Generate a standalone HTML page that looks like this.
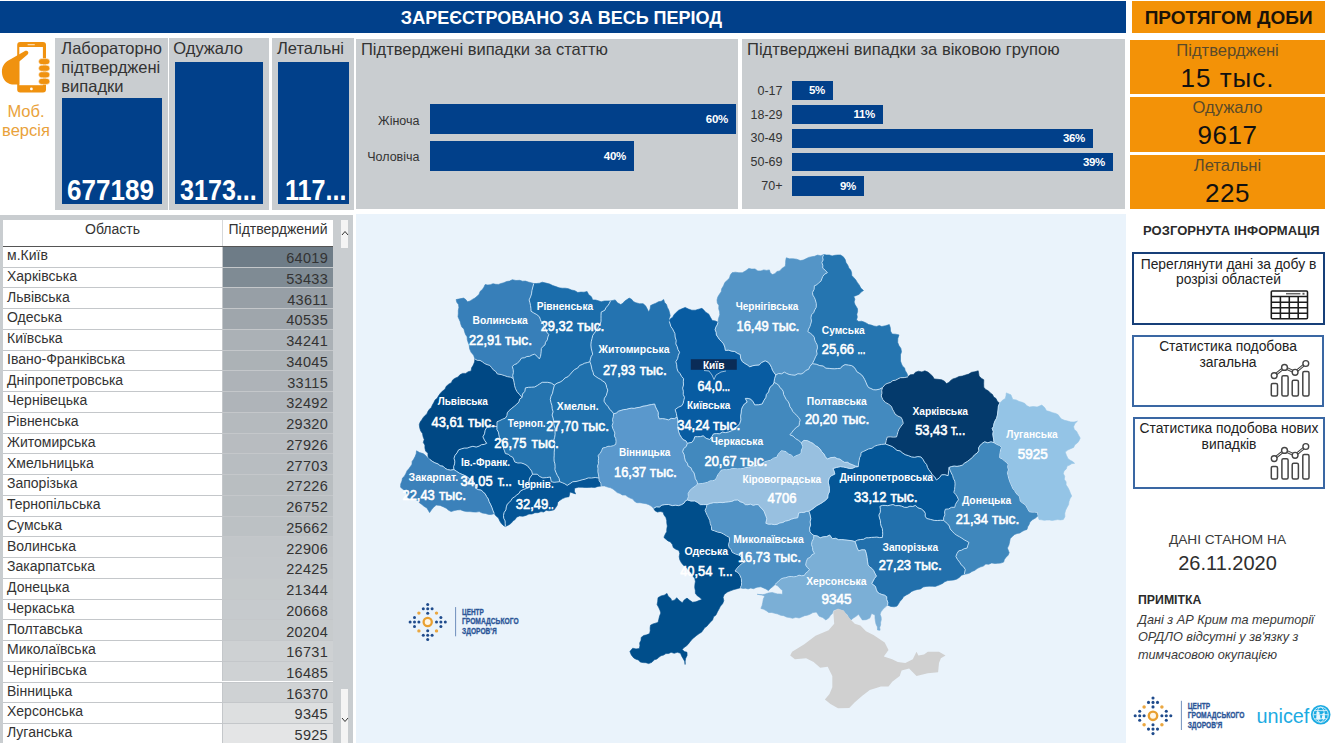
<!DOCTYPE html>
<html lang="uk">
<head>
<meta charset="utf-8">
<title>COVID-19 Ukraine dashboard</title>
<style>
*{box-sizing:border-box;margin:0;padding:0}
html,body{width:1338px;height:743px;overflow:hidden;background:#fff}
body{position:relative;font-family:"Liberation Sans",sans-serif;color:#333}
.abs{position:absolute}
.blue{background:#01408a}
.gray{background:#c9cdd0}
.orange{background:#f39207}
.t{position:absolute;white-space:nowrap;line-height:1}
.c{text-align:center}
.num{font-weight:bold;color:#fff;transform-origin:0 50%}
/* top header */
#hdr{left:0;top:1px;width:1126px;height:32px}
#hdr .t{left:0;width:1126px;top:8px;font-size:18px;font-weight:bold;color:#fff;text-align:center;padding-right:3px}
#hdr2{left:1131.6px;top:1px;width:193.4px;height:32px}
#hdr2 .t{left:0;width:194px;top:7px;font-size:19px;font-weight:bold;color:#1a1208;text-align:center}
/* cards */
.card .lbl{font-size:16.5px;line-height:19.1px;color:#333;white-space:nowrap;position:absolute;left:6.3px;top:1px}
.card .box{position:absolute;background:#01408a}
.card .box .t{bottom:-1px;left:5px;font-size:29.2px}
/* bar charts */
.bar{position:absolute;background:#01408a}
.bar span{position:absolute;right:8px;top:50%;margin-top:-6px;font-size:11.5px;line-height:12px;font-weight:bold;color:#fff;letter-spacing:-.3px}
.blab{position:absolute;margin-left:-1.5px;font-size:12.5px;line-height:14px;color:#333;text-align:right;white-space:nowrap}
/* orange */
.ob{left:1130px;width:195px}
.ob .l{position:absolute;left:0;width:100%;text-align:center;top:1px;font-size:16.6px;line-height:19px;color:#5a4a2a}
.ob .v{position:absolute;left:0;width:100%;text-align:center;top:23px;font-size:26px;line-height:30px;color:#111}
/* table */
#tbl{left:0;top:215px;width:352.5px;height:528px;background:#c9cdd0}
#tw{left:3px;top:5px;width:330px;height:523px;background:#fff}
.tr{position:absolute;left:0;width:330px;height:20.7px;border-top:1px solid #c4c7ca}
.tr .n{position:absolute;left:4px;top:.2px;font-size:14px;line-height:16px;color:#333;white-space:nowrap}
.tr .v{position:absolute;left:219px;width:111px;top:0;height:100%;border-left:1px solid #c4c7ca}
.tr .v span{position:absolute;right:5px;top:3.2px;font-size:14.5px;line-height:16px;color:#333;letter-spacing:.3px}
/* right panel */
.rbox{position:absolute;background:#fff;border:2px solid #3a67a3}
.rbox .tx{position:absolute;left:0;width:100%;text-align:center;font-size:13.85px;line-height:15.4px;color:#222;top:2.2px}
#map{left:356px;top:214px;width:770px;height:529px;background:#eaf3fb;overflow:hidden}
</style>
</head>
<body>
<!-- headers -->
<div id="hdr" class="abs blue"><div class="t">ЗАРЕЄСТРОВАНО ЗА ВЕСЬ ПЕРІОД</div></div>
<div id="hdr2" class="abs orange"><div class="t">ПРОТЯГОМ ДОБИ</div></div>

<!-- phone icon + mobile label -->
<svg class="abs" style="left:0;top:36px" width="60" height="64" viewBox="0 36 60 64">
 <rect x="17.2" y="42" width="28.8" height="50.4" rx="3" fill="#f0920f"/>
 <rect x="19.3" y="47" width="23.6" height="38.2" fill="#fff"/>
 <rect x="27.5" y="44" width="7.4" height="1.3" rx=".6" fill="#fbd9a8"/>
 <circle cx="31.4" cy="88.9" r="1.4" fill="#fff"/>
 <path d="M19.3 84.6 L12 84.4 C6 83.6 2.2 79 1.9 72 C1.8 65 6 61.5 11 59 L24.5 51.2 C27.2 49.8 29.6 52.2 27.6 54.4 L19.3 61.5 Z" fill="#f0920f"/>
 <g fill="#f0920f" stroke="#fff" stroke-width=".5">
  <rect x="38.6" y="58.6" width="11.2" height="6" rx="3"/>
  <rect x="38.6" y="65.2" width="11.2" height="6" rx="3"/>
  <rect x="38.6" y="71.8" width="11.2" height="6" rx="3"/>
  <rect x="38.6" y="78.4" width="11.2" height="6" rx="3"/>
 </g>
</svg>
<div class="t c" style="left:0;width:52px;top:102px;font-size:16.5px;line-height:18.7px;color:#e9a23b;white-space:normal">Моб. версія</div>

<!-- cards -->
<div class="abs gray card" style="left:55px;top:38px;width:113px;height:172px">
 <div class="lbl">Лабораторно<br>підтверджені<br>випадки</div>
 <div class="box" style="left:7px;top:60px;width:100px;height:106px"><div class="t num" style="transform:scaleX(.893)">677189</div></div>
</div>
<div class="abs gray card" style="left:169.3px;top:38px;width:100px;height:172px">
 <div class="lbl" style="left:4px">Одужало</div>
 <div class="box" style="left:5.5px;top:24.4px;width:88px;height:141.6px"><div class="t num" style="transform:scaleX(.86)">3173...</div></div>
</div>
<div class="abs gray card" style="left:272px;top:38px;width:82px;height:172px">
 <div class="lbl" style="left:5px">Летальні</div>
 <div class="box" style="left:6px;top:24.4px;width:71px;height:141.6px"><div class="t num" style="left:7px;transform:scaleX(.86)">117...</div></div>
</div>

<!-- sex chart -->
<div class="abs gray" style="left:356.2px;top:39px;width:381.8px;height:169.8px">
 <div class="t" style="left:4.8px;top:1.3px;font-size:16.55px;line-height:19px">Підтверджені випадки за статтю</div>
 <div class="blab" style="left:.8px;width:64px;top:74.6px">Жіноча</div>
 <div class="blab" style="left:.8px;width:64px;top:111.2px">Чоловіча</div>
 <div class="bar" style="left:73.8px;top:65px;width:306px;height:30px"><span>60%</span></div>
 <div class="bar" style="left:73.8px;top:101.7px;width:204px;height:30px"><span>40%</span></div>
</div>

<!-- age chart -->
<div class="abs gray" style="left:742px;top:39px;width:382.5px;height:169.8px">
 <div class="t" style="left:5px;top:1.3px;font-size:16.55px;line-height:19px">Підтверджені випадки за віковою групою</div>
 <div class="blab" style="left:0;width:42px;top:44.5px">0-17</div>
 <div class="blab" style="left:0;width:42px;top:68.5px">18-29</div>
 <div class="blab" style="left:0;width:42px;top:92.3px">30-49</div>
 <div class="blab" style="left:0;width:42px;top:116px">50-69</div>
 <div class="blab" style="left:0;width:42px;top:140px">70+</div>
 <div class="bar" style="left:50px;top:41.7px;width:41px;height:19.1px"><span>5%</span></div>
 <div class="bar" style="left:50px;top:65.7px;width:91px;height:19.1px"><span>11%</span></div>
 <div class="bar" style="left:50px;top:90.1px;width:301px;height:18.5px"><span>36%</span></div>
 <div class="bar" style="left:50px;top:113.8px;width:321px;height:18.4px"><span>39%</span></div>
 <div class="bar" style="left:50px;top:137.4px;width:72px;height:19.2px"><span>9%</span></div>
</div>

<!-- orange boxes -->
<div class="abs orange ob" style="top:40px;height:54.4px"><div class="l">Підтверджені</div><div class="v" style="letter-spacing:1px">15 тыс.</div></div>
<div class="abs orange ob" style="top:97.2px;height:54.4px"><div class="l">Одужало</div><div class="v" style="letter-spacing:.6px">9617</div></div>
<div class="abs orange ob" style="top:154.6px;height:54.2px"><div class="l">Летальні</div><div class="v" style="letter-spacing:.6px">225</div></div>

<!-- table -->
<div id="tbl" class="abs">
 <div id="tw" class="abs">
  <div class="t c" style="left:0;width:219px;top:1.2px;font-size:14px;line-height:16px">Область</div>
  <div class="t c" style="left:219px;width:111px;top:0;font-size:14px;line-height:16px;border-left:1px solid #d6d8da;height:26px;padding-top:1.2px">Підтверджений</div>
  <div class="tr" style="top:26.00px;border-top-color:#555"><div class="n">м.Київ</div><div class="v" style="background:#6e7c87"><span>64019</span></div></div>
  <div class="tr" style="top:46.74px"><div class="n">Харківська</div><div class="v" style="background:#7f8b94"><span>53433</span></div></div>
  <div class="tr" style="top:67.48px"><div class="n">Львівська</div><div class="v" style="background:#979fa6"><span>43611</span></div></div>
  <div class="tr" style="top:88.22px"><div class="n">Одеська</div><div class="v" style="background:#9fa6ac"><span>40535</span></div></div>
  <div class="tr" style="top:108.96px"><div class="n">Київська</div><div class="v" style="background:#abb1b6"><span>34241</span></div></div>
  <div class="tr" style="top:129.70px"><div class="n">Івано-Франківська</div><div class="v" style="background:#acb2b6"><span>34045</span></div></div>
  <div class="tr" style="top:150.44px"><div class="n">Дніпропетровська</div><div class="v" style="background:#aeb3b8"><span>33115</span></div></div>
  <div class="tr" style="top:171.18px"><div class="n">Чернівецька</div><div class="v" style="background:#afb4b9"><span>32492</span></div></div>
  <div class="tr" style="top:191.92px"><div class="n">Рівненська</div><div class="v" style="background:#b5babe"><span>29320</span></div></div>
  <div class="tr" style="top:212.66px"><div class="n">Житомирська</div><div class="v" style="background:#b8bcc0"><span>27926</span></div></div>
  <div class="tr" style="top:233.40px"><div class="n">Хмельницька</div><div class="v" style="background:#b8bdc1"><span>27703</span></div></div>
  <div class="tr" style="top:254.14px"><div class="n">Запорізька</div><div class="v" style="background:#b9bec1"><span>27226</span></div></div>
  <div class="tr" style="top:274.88px"><div class="n">Тернопільська</div><div class="v" style="background:#babfc2"><span>26752</span></div></div>
  <div class="tr" style="top:295.62px"><div class="n">Сумська</div><div class="v" style="background:#bcc1c4"><span>25662</span></div></div>
  <div class="tr" style="top:316.36px"><div class="n">Волинська</div><div class="v" style="background:#c2c6c9"><span>22906</span></div></div>
  <div class="tr" style="top:337.10px"><div class="n">Закарпатська</div><div class="v" style="background:#c3c7ca"><span>22425</span></div></div>
  <div class="tr" style="top:357.84px"><div class="n">Донецька</div><div class="v" style="background:#c5c9cb"><span>21344</span></div></div>
  <div class="tr" style="top:378.58px"><div class="n">Черкаська</div><div class="v" style="background:#c6cacd"><span>20668</span></div></div>
  <div class="tr" style="top:399.32px"><div class="n">Полтавська</div><div class="v" style="background:#c7cbcd"><span>20204</span></div></div>
  <div class="tr" style="top:420.06px"><div class="n">Миколаївська</div><div class="v" style="background:#ced1d3"><span>16731</span></div></div>
  <div class="tr" style="top:440.80px"><div class="n">Чернігівська</div><div class="v" style="background:#cfd2d4"><span>16485</span></div></div>
  <div class="tr" style="top:461.54px"><div class="n">Вінницька</div><div class="v" style="background:#cfd2d4"><span>16370</span></div></div>
  <div class="tr" style="top:482.28px"><div class="n">Херсонська</div><div class="v" style="background:#dddfe0"><span>9345</span></div></div>
  <div class="tr" style="top:503.02px"><div class="n">Луганська</div><div class="v" style="background:#e4e5e6"><span>5925</span></div></div>
 </div>
 <!-- scrollbar -->
 <div class="abs" style="left:341px;top:5px;width:7px;height:28px;background:#f4f4f4"></div>
 <div class="abs" style="left:341px;top:474px;width:7px;height:54px;background:#f4f4f4"></div>
 <svg class="abs" style="left:341px;top:15px" width="8" height="6" viewBox="0 0 8 6"><path d="M1 5 L4 1.5 L7 5" fill="none" stroke="#333" stroke-width="1"/></svg>
 <svg class="abs" style="left:341px;top:502px" width="8" height="6" viewBox="0 0 8 6"><path d="M1 1 L4 4.5 L7 1" fill="none" stroke="#333" stroke-width="1"/></svg>
</div>

<!-- map -->
<div id="map" class="abs">
<svg id="mapsvg" class="abs" style="left:-356px;top:-214px" width="1338" height="743" viewBox="0 0 1338 743">
<g stroke-linejoin="round">
<path d="M474.9,358.9 473.6,355.2 471.1,352.3 469.6,348.8 469.2,344.9 468.1,342.3 467.3,339.7 467.1,336.8 465.5,334.4 464.6,331.8 463.9,329 461.8,326.9 460.8,324.3 460.2,321.7 459.1,319.2 458,316.8 458.3,313.7 458.3,310.5 458.9,307.4 458.5,304.6 456.8,302.3 456.1,299.6 459.8,298.8 463.6,298.1 465.8,299.6 467.4,301.8 470.1,301 472.4,299.4 474.9,298.1 477.1,296.2 479.1,294.2 480.1,291.4 482.3,289.6 483.9,287.2 485.1,284.6 487.8,285 490.4,284.7 493,283.7 495.7,284.3 498.4,284.4 501,283.5 503.9,282.7 506.6,281.5 509.6,281.1 512.3,279.7 516,280.5 519.8,280.3 522.5,281.2 525.5,281.1 528.2,282 531,282.7 533.8,283.5 532.8,287 531.9,290.6 531.5,293.9 530.5,296.9 529.1,299.9 529.9,302.7 530.5,305.5 530.9,308.3 531,311.2 533.8,313 536.8,314.6 539.4,316.8 540.3,319.3 541.2,321.7 543.5,323.5 544.1,326.1 545.6,329 546.7,332.1 548.8,334.6 547.8,337.1 547.3,339.9 545.5,342.2 545,344.9 542.9,346.5 541.3,348.6 541.2,351.2 540.9,353.8 540.5,356.4 539.4,358.9 537.2,356.4 534.7,354.2 532.1,354.9 529.6,356.3 526.9,356.5 524.4,357.8 521.6,358 519.5,360.9 517,363.6 514.4,364.6 512.3,366.4 513.1,369.4 513.4,372.4 512.7,375.5 513.2,378.5 510.5,377.1 507.6,376.7 504.8,375.7 501.1,374.5 497.3,373.9 495.8,371.5 493.3,369.8 491.6,367.6 489.8,365.4 487.1,364.6 484.5,363.5 482.3,361.7 480,360.4 477.2,360.3Z" fill="#377fb9" stroke="#377fb9" stroke-width=".6"/>
<path d="M533.8,283.5 536.7,283.5 539.5,283.2 542.2,282.2 546,283.1 549.7,284 552.7,285.5 555.9,286.6 559.1,287.8 562.2,288.2 565.3,288.2 568.4,288.7 571.5,290 574.9,290.7 577.8,292.5 580.9,292.1 584,292.2 587.1,291.5 588.6,294.5 591.4,296.7 592.7,299.9 595.7,300 598.4,300.8 601.2,301.8 604.2,301 607.4,300.9 610.5,300.9 609.3,303.4 607.9,305.7 605.9,307.6 604.9,310.2 601.2,312.1 601,315.2 601,318.2 601,321.3 600.2,324.3 598.6,326.5 597.5,329 595.9,331.1 594.2,333.3 592.7,335.5 592,338.6 591.2,341.7 590.9,344.9 591.2,348.1 591.9,351.1 592.7,354.2 591.2,356.5 590.4,359 589.9,361.7 587.3,362.6 584.6,363.2 582.2,364.5 579.6,365.4 577.6,368.1 574.5,369.6 572.2,372 570.1,374.4 568,376.7 564.9,378 562.8,380.4 560.1,382.1 557,383.2 554.4,385.1 551.3,383.1 547.8,382.3 545,382.3 542.2,382.3 539.7,383.9 537.3,385.5 534.7,387 531.6,387.2 528.5,387.3 525.4,387.9 524.9,391.3 522.5,394 522,397.4 519.5,394.5 517,391.6 515.5,388.7 514.6,385.6 514.1,382.3 513.2,378.5 512.7,375.5 513.4,372.4 513.1,369.4 512.3,366.4 514.4,364.6 517,363.6 519.5,360.9 521.6,358 524.4,357.8 526.9,356.5 529.6,356.3 532.1,354.9 534.7,354.2 537.2,356.4 539.4,358.9 540.5,356.4 540.9,353.8 541.2,351.2 541.3,348.6 542.9,346.5 545,344.9 545.5,342.2 547.3,339.9 547.8,337.1 548.8,334.6 546.7,332.1 545.6,329 544.1,326.1 543.5,323.5 541.2,321.7 540.3,319.3 539.4,316.8 536.8,314.6 533.8,313 531,311.2 530.9,308.3 530.5,305.5 529.9,302.7 529.1,299.9 530.5,296.9 531.5,293.9 531.9,290.6 532.8,287Z" fill="#1b6dab" stroke="#1b6dab" stroke-width=".6"/>
<path d="M610.5,300.9 615.2,299.9 617.5,302.8 620.8,304.6 623,303.1 624.8,301 627,299.6 629.2,298.1 631.6,299.3 633.4,301.5 635.8,302.7 639.5,303.7 643.3,303.7 645.7,306.1 647.3,309 648.7,312 650.1,308.9 650.6,305.5 653.2,304.3 655.9,303.2 658.4,301.8 661.3,301.2 663.7,299.5 664.5,302.3 666.5,304.6 667.4,307.4 668.8,310 669.6,312.9 670.2,315.8 669.1,318.5 669.3,321.4 670.1,324 670.9,326.6 672.5,328.8 673.7,331.2 674.9,333.6 675.1,337 676.2,340.4 675.8,343.9 677.2,346.7 678,349.7 679.6,352.3 678.3,355.4 677.6,358.7 675.8,361.6 676.7,364.8 676.9,368.1 677.9,371.2 680,373.5 681.5,376.3 683.6,378.7 683.3,381.8 683.5,385 682.6,388.1 683.3,391.2 683.2,394.4 684.5,397.4 683.8,400.3 683.2,403.2 681.7,405.8 678.2,407.3 675.1,409.6 676.3,413.3 677,417.1 674.4,418.7 671.2,418.4 668.6,419.9 665.5,419.1 662.4,418.6 659.2,418.9 658.2,415.7 658.3,412.4 656.9,409.7 655.5,406.9 654.6,404 651.8,404.5 648.9,405 646.1,405.8 643,406.2 639.9,407.3 636.8,407.7 634.2,408.4 631.5,408.2 628.9,408.6 626.3,409.4 623.7,409.6 621.1,410.4 618.5,411.2 616.3,413.1 613.6,413.8 612,411.4 609.7,409.4 608.3,406.8 605.9,404.2 604,401.2 604.4,398.2 606.2,395.7 607,392.9 607.8,390 606.7,387.6 606.2,384.9 605,382.5 602.7,381 600.6,379.4 598.1,378.1 595.9,376.6 593.7,375 593.1,372.3 592,369.7 591.5,367 590.8,364.3 589.9,361.7 590.4,359 591.2,356.5 592.7,354.2 591.9,351.1 591.2,348.1 590.9,344.9 591.2,341.7 592,338.6 592.7,335.5 594.2,333.3 595.9,331.1 597.5,329 598.6,326.5 600.2,324.3 601,321.3 601,318.2 601,315.2 601.2,312.1 604.9,310.2 605.9,307.6 607.9,305.7 609.3,303.4Z" fill="#2473b0" stroke="#2473b0" stroke-width=".6"/>
<path d="M669.3,321.4 670.4,318.8 672.7,317.2 674,314.8 676.2,312.4 678.7,310.2 681.9,308.8 685.2,307.4 688.4,309 691.8,310.2 695.3,310.2 698.7,309.2 702,308.3 704,310.3 706,312.5 708.6,313.9 710.4,317.2 712.3,320.5 715.3,320.9 718,322.3 717.2,324.9 715.8,327.2 715.1,329.8 716.2,332.3 716.4,335 718,337.3 719.6,339.7 721.7,341.7 723.6,343.9 724.8,347.1 725.4,350.4 728.6,350.2 731.7,351.2 734.8,351.5 737.4,353.3 740.3,354.5 740.6,358.2 742.3,361.6 744.8,363.4 747.4,364.9 749.8,366.8 752.8,365.7 755.9,365.2 759.1,365 761.8,362.4 765.2,360.8 768.2,362.3 770.3,365 771.6,367.6 772.5,370.3 774.1,372.7 775.8,375 774.6,378.6 774,382.4 772.9,384.9 770.6,386.6 769.3,389 768.6,392 766.4,394.4 765.9,397.4 763.8,400.6 762.2,404 758.5,404.8 754.7,404.9 753.2,401.9 750.9,399.3 748.2,398.4 745.3,398.4 747.2,402.1 744.4,404 742.5,406.8 741.4,409.8 741.2,413 740.6,416.1 740.9,419.9 739.7,423.6 738.1,425.7 735.8,427.2 734.1,429.2 731.4,430.8 728.5,432 725.5,432.6 722.4,432.1 719.6,433.8 716.5,433.6 713.5,433.9 711.8,436.8 709.8,439.5 706.1,438.3 703.2,435.8 700.5,436.6 697.6,436.7 694.8,436.7 693.8,439.7 692,442.3 687.3,443.3 685.9,440.8 683,439.6 681.4,437.3 679.8,434.9 678.7,431.9 678,428.7 677.9,425.5 677.7,422.7 677.8,419.9 677,417.1 676.3,413.3 675.1,409.6 678.2,407.3 681.7,405.8 683.2,403.2 683.8,400.3 684.5,397.4 683.2,394.4 683.3,391.2 682.6,388.1 683.5,385 683.3,381.8 683.6,378.7 681.5,376.3 680,373.5 677.9,371.2 676.9,368.1 676.7,364.8 675.8,361.6 677.6,358.7 678.3,355.4 679.6,352.3 678,349.7 677.2,346.7 675.8,343.9 676.2,340.4 675.1,337 674.9,333.6 673.7,331.2 672.5,328.8 670.9,326.6 670.1,324Z" fill="#085ca2" stroke="#085ca2" stroke-width=".6"/>
<path d="M718,322.3 718.5,318.4 719.8,314.8 719.6,311.7 718.7,308.7 718.9,305.5 717.3,302.9 717,299.9 717.8,297 719.4,294.3 721.2,291.8 721.7,288.7 723.5,285.8 724.8,282.6 727.3,280.2 729.5,278.1 730.3,275.1 732,272.7 735.4,272.2 738.9,272.7 742.3,272.7 745.7,270.8 748.8,268.4 751.8,269.1 755,268.9 757.8,270.9 761,270.9 763.7,269.9 766.6,270.4 769.4,269.9 770.2,272.6 772.2,274.6 774.9,273.7 776.9,271.5 779.7,270.9 782.2,268.2 785.3,266.2 785.6,263.4 785.7,260.6 786.3,257.8 789.5,258.8 792.8,258.7 796.7,259.2 800.3,260.6 803.2,260.1 805.9,258.8 808.6,257.4 811.5,256.8 814.6,256.3 817.5,255.1 820.7,255.7 823.7,254.6 822.6,257.1 823.1,260 821.8,262.5 822.8,265.2 822.7,268.1 825.2,270.2 827.4,272.7 824.7,274.1 822.7,276.5 820.9,281.2 818.7,282.8 816.8,284.8 814.3,285.8 814.1,289.3 812.5,292.4 812.8,295.1 814.3,297.4 815.3,299.9 816.3,303.6 816.2,307.4 814.7,309.9 813.6,312.7 811.5,314.8 810.9,317.9 811.5,321.1 810.6,324.2 809.8,326.7 808.5,329.1 807.8,331.7 810.3,333.2 812.5,335 814.3,337.3 814.7,340 815.8,342.5 817.1,344.8 817.5,347.9 816.5,351 817.1,354.1 815.5,356.8 814.3,359.8 812.3,363.7 810,366.2 808.6,369.3 805.8,370.4 803.7,372.7 801.1,374 797.9,373.7 795,375.2 791.8,374.9 789.1,374.4 786.7,373.4 784.3,372.1 781.7,373.8 778.4,373.5 775.8,375 774.1,372.7 772.5,370.3 771.6,367.6 770.3,365 768.2,362.3 765.2,360.8 761.8,362.4 759.1,365 755.9,365.2 752.8,365.7 749.8,366.8 747.4,364.9 744.8,363.4 742.3,361.6 740.6,358.2 740.3,354.5 737.4,353.3 734.8,351.5 731.7,351.2 728.6,350.2 725.4,350.4 724.8,347.1 723.6,343.9 721.7,341.7 719.6,339.7 718,337.3 716.4,335 716.2,332.3 715.1,329.8 715.8,327.2 717.2,324.9Z" fill="#5495c7" stroke="#5495c7" stroke-width=".6"/>
<path d="M823.7,254.6 826.5,255 829.4,255 832.1,255.9 834.9,255.3 837.7,255 840.5,255 843.3,256.8 845.2,259.6 846,262.6 847.8,265.2 848.9,268.1 850.7,270.1 851.6,272.6 851.8,275.4 853.6,277.4 855.7,279.8 857.3,282.4 859.2,284.9 860.8,288.1 863.5,290.5 861.1,292.1 859.2,294.3 856.4,295.4 853.7,296.5 854.9,299.1 854.1,302 855,304.6 857.5,308.7 857.6,311.5 856.8,314.3 857.3,317.1 856.5,319.9 858.7,321.5 861.6,321.2 864.1,322.1 866.5,323.2 868.7,324.6 871.3,325.1 873.8,326 876.5,326.4 879.3,325.6 881.8,326.5 885.6,325.7 889.3,324.6 890.3,327.7 890.5,331.1 892.1,334 895.6,334.2 899,334.9 897.8,338.5 897.7,342.4 898.9,345.5 900.9,348.4 901.5,351.8 900.5,354.8 900.5,358 900.5,361.1 901.4,363.6 902.4,366 904.6,367.9 905.2,370.5 907,373.5 908,376.8 904.2,377.6 900.3,377.7 897.9,378.9 895.5,380.2 892.8,380.6 890.6,382.4 887.9,383.2 885.3,384.3 882.5,387.6 879.4,389.2 876,389.9 873.3,389.7 870.9,388.5 868.5,387.5 867,385 865.9,382.2 864.7,379.6 863.3,377.1 861.5,374.8 859.1,373.1 856.8,371.7 855.5,369.2 853.9,367.1 851.6,365.6 848.4,365.1 845.1,364.6 842.4,366 840.4,368.4 837.6,368.5 834.8,368.8 832,368.7 829.2,368.4 825.9,368.2 823.1,366 819.8,365.6 816.2,364.2 812.3,363.7 814.3,359.8 815.5,356.8 817.1,354.1 816.5,351 817.5,347.9 817.1,344.8 815.8,342.5 814.7,340 814.3,337.3 812.5,335 810.3,333.2 807.8,331.7 808.5,329.1 809.8,326.7 810.6,324.2 811.5,321.1 810.9,317.9 811.5,314.8 813.6,312.7 814.7,309.9 816.2,307.4 816.3,303.6 815.3,299.9 814.3,297.4 812.8,295.1 812.5,292.4 814.1,289.3 814.3,285.8 816.8,284.8 818.7,282.8 820.9,281.2 822.7,276.5 824.7,274.1 827.4,272.7 825.2,270.2 822.7,268.1 822.8,265.2 821.8,262.5 823.1,260 822.6,257.1Z" fill="#2575b0" stroke="#2575b0" stroke-width=".6"/>
<path d="M775.8,375 778.4,373.5 781.7,373.8 784.3,372.1 786.7,373.4 789.1,374.4 791.8,374.9 795,375.2 797.9,373.7 801.1,374 803.7,372.7 805.8,370.4 808.6,369.3 810,366.2 812.3,363.7 816.2,364.2 819.8,365.6 823.1,366 825.9,368.2 829.2,368.4 832,368.7 834.8,368.8 837.6,368.5 840.4,368.4 842.4,366 845.1,364.6 848.4,365.1 851.6,365.6 853.9,367.1 855.5,369.2 856.8,371.7 859.1,373.1 861.5,374.8 863.3,377.1 864.7,379.6 865.9,382.2 867,385 868.5,387.5 870.9,388.5 873.3,389.7 876,389.9 879.4,389.2 882.5,387.6 881.7,390.3 881.9,393.2 881.2,396 882.8,399.6 885.5,402.5 888.7,404.2 891.5,406.5 892.4,409.1 893.8,411.5 895,414 897.9,416.1 901.2,417.5 902.5,420.3 903.2,423.3 901.1,426.1 899,429 898,431.6 897.3,434.3 896.5,436.9 893.4,437.1 890.3,436.8 887.2,437 886.2,440.5 885.4,444 881.6,444.4 877.8,445.1 874.6,446.2 871.9,448.3 868.5,448.9 866,450.2 863.5,451.4 861,452.6 860.8,455.3 859.6,457.7 859.1,460.4 858.6,463 858.2,466.6 855.3,466.1 852.6,464.8 849.8,463.8 847.5,462.3 844.6,462.4 842.3,461 840.1,459.2 837.2,458.7 834.8,457.3 830.9,457.6 827.3,459.1 825.3,456.7 823.9,453.9 821.7,451.7 820.1,449.1 818,447 815.3,445.7 813.2,443.5 810.5,442.3 807.4,440.7 803.9,440.4 801.3,442.8 798.6,440.4 795.5,438.6 793.1,436.1 789.9,434.8 791.8,432.5 793.6,430.1 796.2,427.6 799.2,425.5 799.4,422.6 800.2,419.9 798.6,417.5 796.6,415.3 794.6,413.3 792.7,411.4 791.6,408.9 789.9,406.8 789.3,404 788,401.5 786.1,399.3 784.9,396.9 783.6,394.5 783.3,391.8 782,389.4 779.9,387.6 778.7,385.2 776.5,383.6 774,382.4 774.6,378.6Z" fill="#438abf" stroke="#438abf" stroke-width=".6"/>
<path d="M908,376.8 910.2,374.8 913.4,374.4 915.5,372.3 918.5,371.2 921.9,371.9 924.9,370.8 927.9,372.1 930.5,374.2 932.7,376.3 934.2,378.9 938,379.3 941.7,379.8 944.5,381.2 946.4,383.6 948.9,382.4 950.7,380.4 952.9,378.9 956,378 959,376.5 962.3,376.1 965.5,375 968.7,374.1 971.6,372.3 974.9,371.7 978.2,370.8 978.7,373.4 979.1,376.1 981.3,378.2 983.8,379.8 983.7,383.6 983.8,387.3 985.7,389.5 988.3,390.8 990.3,392.9 992.5,394.5 993.7,397 996,398.5 997.3,401.3 999.7,403.2 998.4,406 998.2,409 997.8,412 997.4,415.2 996.6,418.2 995,421 994,423.6 993.6,426.3 992.2,428.7 993.3,431.4 992.8,434.3 993.3,437.1 993.7,439.9 994.1,442.7 991,441.8 987.8,442.8 984.7,441.8 982.1,443.4 980,445.6 978.5,447.9 978.8,450.8 977.2,453 974.5,454.9 972.4,457.5 969.8,459.6 967.3,461.5 964.6,463.1 962.3,465.2 959.7,465.9 957,466.4 954.2,466.1 951.6,466.5 949,467.5 948.8,470.2 948.4,473 948.1,475.7 944.9,474.7 941.6,474.8 939.4,477.8 936.4,480 934.8,477 932.2,474.8 930.8,472.2 928.9,469.9 927.5,467.4 926.6,464.5 924.5,462.2 923,459.4 921,457 917.9,456.6 914.7,457.3 911.6,457 908.5,455.7 905.2,454.7 902.3,452.8 900.1,450.9 897,450.4 894.8,448.5 892.5,446.7 889,445.3 885.4,444 886.2,440.5 887.2,437 890.3,436.8 893.4,437.1 896.5,436.9 897.3,434.3 898,431.6 899,429 901.1,426.1 903.2,423.3 902.5,420.3 901.2,417.5 897.9,416.1 895,414 893.8,411.5 892.4,409.1 891.5,406.5 888.7,404.2 885.5,402.5 882.8,399.6 881.2,396 881.9,393.2 881.7,390.3 882.5,387.6 885.3,384.3 887.9,383.2 890.6,382.4 892.8,380.6 895.5,380.2 897.9,378.9 900.3,377.7 904.2,377.6Z" fill="#043a6c" stroke="#043a6c" stroke-width=".6"/>
<path d="M999.7,403.2 1002.2,400.5 1005.3,398.5 1006,395.7 1006.3,392.9 1010.9,394.8 1012.8,399.5 1016.1,399.9 1019.1,401.4 1022.2,402.3 1024.9,403.5 1026.9,405.8 1029.6,407 1033.3,406.5 1037.1,407 1041.8,405.1 1044.6,407.5 1046.5,410.7 1049.6,411.6 1052.7,412.7 1055.8,413.5 1058.2,414.8 1059.7,417.1 1061.5,419.1 1064.5,420.3 1067.7,421.1 1070.8,421.9 1074.2,422 1077.4,421.2 1074.9,423.6 1073.6,426.8 1074.3,429.4 1076.5,431.2 1077.7,433.5 1078.9,435.8 1080.2,438.1 1079,440.8 1077.3,443 1074.9,444.8 1073.6,447.4 1070.6,448.7 1067.7,450.1 1065.2,452.1 1066.5,455.4 1068,458.7 1070.2,460.2 1072.6,461.5 1074.6,463.3 1071.9,463.6 1069.6,465.1 1067.1,466.1 1066.3,468.9 1064.1,470.9 1063.3,473.6 1064.7,476.3 1064.3,479.3 1066.1,481.9 1066.1,484.9 1067.9,487.5 1069.3,490.3 1070.4,493.2 1071.7,496.1 1070,498.7 1069,501.5 1068.6,504.6 1067.1,507.3 1065.6,510.2 1064.8,513.3 1064.9,516.7 1063.3,519.5 1060.5,519.9 1057.7,519.6 1054.9,520 1052.1,520.4 1049.5,520 1046.9,520 1044.2,520.3 1041.6,519.8 1039,519.5 1038,515.7 1037.5,512.4 1034.8,512.1 1032,512.1 1029.3,511.7 1027.4,508.4 1025.6,505 1022.9,503.2 1020.3,501.2 1019.6,496.7 1017.6,494.9 1015.9,492.9 1014.6,490.5 1012.8,488.6 1011.8,486 1010.6,483.5 1009.6,480.9 1008.7,478.2 1008.1,475.5 1007.4,472.7 1008.5,469.9 1007.7,467.1 1008.1,464.3 1006.3,462.3 1004.2,460.6 1002.2,458.9 999.7,457.7 999.8,455.1 1000.2,452.5 1000.6,449.9 1001.6,447.4 999.4,445.4 996.6,444.3 994.1,442.7 993.7,439.9 993.3,437.1 992.8,434.3 993.3,431.4 992.2,428.7 993.6,426.3 994,423.6 995,421 996.6,418.2 997.4,415.2 997.8,412 998.2,409 998.4,406Z" fill="#94c4e6" stroke="#94c4e6" stroke-width=".6"/>
<path d="M994.1,442.7 996.6,444.3 999.4,445.4 1001.6,447.4 1000.6,449.9 1000.2,452.5 999.8,455.1 999.7,457.7 1002.2,458.9 1004.2,460.6 1006.3,462.3 1008.1,464.3 1007.7,467.1 1008.5,469.9 1007.4,472.7 1008.1,475.5 1008.7,478.2 1009.6,480.9 1010.6,483.5 1011.8,486 1012.8,488.6 1014.6,490.5 1015.9,492.9 1017.6,494.9 1019.6,496.7 1020.3,501.2 1022.9,503.2 1025.6,505 1027.4,508.4 1029.3,511.7 1032,512.1 1034.8,512.1 1037.5,512.4 1038,515.7 1035.5,518 1032.5,519.7 1030,522 1029.1,524.5 1027.7,526.8 1027,529.4 1024.5,530.3 1022.1,531.4 1019.9,533 1017.2,533.5 1014.7,534.4 1012.3,536.4 1010.2,538.7 1009.6,541.9 1008.9,545.1 1007.4,548.1 1009.2,552.7 1008.1,555.2 1006.1,557.2 1004.4,559.4 1003.6,562.1 1000.7,563.1 997.7,563.3 994.8,563.5 991.7,562.9 988.8,564.3 985.8,564 983.3,566.1 980.1,567.1 977.2,568.5 974.6,570.5 972,571.4 969.7,573 967,573.8 964.3,574.3 965.3,569.6 963.7,566.9 961.2,564.8 959.6,562.1 957.5,559.5 955.9,556.5 957,553.5 958.7,550.9 961.6,550.2 964.2,548.7 967.1,548.1 967.9,545.2 969,542.5 966.6,541.1 964.2,539.8 961.9,538.2 959.6,536.8 956.8,535.3 954.3,533.5 952.2,531.2 950.2,529 949.3,526 947.5,523.7 943.6,520.4 943.7,517.5 944.9,514.9 944.6,511.9 945.4,509.2 948.6,509 951.5,507.3 954.8,507.3 955.4,504.5 956.8,502.1 958.5,499.8 957.4,497 955.8,494.6 953.9,492.3 954.6,489.5 954.9,486.7 955.1,483.9 954.8,481.1 953.4,478.5 952.7,475.6 951.3,473 950.1,470.2 949,467.5 951.6,466.5 954.2,466.1 957,466.4 959.7,465.9 962.3,465.2 964.6,463.1 967.3,461.5 969.8,459.6 972.4,457.5 974.5,454.9 977.2,453 978.8,450.8 978.5,447.9 980,445.6 982.1,443.4 984.7,441.8 987.8,442.8 991,441.8Z" fill="#3f87bc" stroke="#3f87bc" stroke-width=".6"/>
<path d="M885.4,444 889,445.3 892.5,446.7 894.8,448.5 897,450.4 900.1,450.9 902.3,452.8 905.2,454.7 908.5,455.7 911.6,457 914.7,457.3 917.9,456.6 921,457 923,459.4 924.5,462.2 926.6,464.5 927.5,467.4 928.9,469.9 930.8,472.2 932.2,474.8 934.8,477 936.4,480 939.4,477.8 941.6,474.8 944.9,474.7 948.1,475.7 948.4,473 948.8,470.2 949,467.5 950.1,470.2 951.3,473 952.7,475.6 953.4,478.5 954.8,481.1 955.1,483.9 954.9,486.7 954.6,489.5 953.9,492.3 955.8,494.6 957.4,497 958.5,499.8 956.8,502.1 955.4,504.5 954.8,507.3 951.5,507.3 948.6,509 945.4,509.2 944.6,511.9 944.9,514.9 943.7,517.5 943.6,520.4 940.5,520.3 937.3,520.5 934.2,520.4 930.5,519.4 926.7,518.5 925.2,516.2 925.3,513.3 923.9,511 921.3,508.9 917.9,507.8 915.5,505.4 912.8,506.5 909.9,506.2 907.2,507.4 904.3,507.3 901.6,506.1 898.8,505.5 895.7,505.7 893,504.5 890.4,505.1 887.8,505.7 885.1,505.4 882.4,505.4 879.9,506.4 880.4,509.3 880.3,512.2 878.9,515.1 879.5,518 880.4,520.6 880.5,523.3 881.1,526 882.3,528.5 882.6,531.5 882.7,534.5 882.3,537.5 879.6,537.6 876.9,537.1 874.2,537.3 871.5,537.4 868.8,537.8 866.1,537.8 863.5,539.3 860.5,539.5 857.5,540.1 854.9,541.5 851.1,540.6 848,540.3 844.9,539.9 841.8,539.6 838.6,539.7 835.6,538.3 832.4,538.7 829.6,535 826.7,536.6 823.3,536.8 820.2,537.8 817.3,536 813.9,535.5 811.7,533.9 809.9,531.8 809.5,528 810.6,525 810.1,521.8 810.8,518.7 810.1,514.9 808.9,511.2 811.8,509.4 814.6,507.4 816.9,505.5 819.5,504.2 822,502.7 825,500.6 827.7,498.1 827.9,494.9 829.3,491.9 829.5,488.7 828.9,485.3 828.2,482 829.2,477.9 831.7,475.5 834.8,474.1 834.1,471.2 832.9,468.5 836.6,467.4 840.4,466.6 843.6,467 846.7,467.7 849.8,468.5 852.7,468.2 855.3,466.9 858.2,466.6 858.6,463 859.1,460.4 859.6,457.7 860.8,455.3 861,452.6 863.5,451.4 866,450.2 868.5,448.9 871.9,448.3 874.6,446.2 877.8,445.1 881.6,444.4Z" fill="#045697" stroke="#045697" stroke-width=".6"/>
<path d="M854.9,541.5 857.5,540.1 860.5,539.5 863.5,539.3 866.1,537.8 868.8,537.8 871.5,537.4 874.2,537.3 876.9,537.1 879.6,537.6 882.3,537.5 882.7,534.5 882.6,531.5 882.3,528.5 881.1,526 880.5,523.3 880.4,520.6 879.5,518 878.9,515.1 880.3,512.2 880.4,509.3 879.9,506.4 882.4,505.4 885.1,505.4 887.8,505.7 890.4,505.1 893,504.5 895.7,505.7 898.8,505.5 901.6,506.1 904.3,507.3 907.2,507.4 909.9,506.2 912.8,506.5 915.5,505.4 917.9,507.8 921.3,508.9 923.9,511 925.3,513.3 925.2,516.2 926.7,518.5 930.5,519.4 934.2,520.4 937.3,520.5 940.5,520.3 943.6,520.4 947.5,523.7 949.3,526 950.2,529 952.2,531.2 954.3,533.5 956.8,535.3 959.6,536.8 961.9,538.2 964.2,539.8 966.6,541.1 969,542.5 967.9,545.2 967.1,548.1 964.2,548.7 961.6,550.2 958.7,550.9 957,553.5 955.9,556.5 957.5,559.5 959.6,562.1 961.2,564.8 963.7,566.9 965.3,569.6 964.3,574.3 961.5,575.3 959.3,577.4 956.9,579.1 954,579.9 950.9,580.3 947.7,580.6 944.7,581.8 942.6,583.4 940.2,584.6 937.8,585.5 935.3,586.4 932.2,586.3 929.1,586.2 926,586.4 923.1,587.1 920.6,588.9 917.6,589.4 914.7,590.2 911.7,591.4 909.2,593.5 906.3,595 903.5,596.7 902.1,599.2 900,601.2 898.6,603.7 897,606.1 894.1,606.8 890.7,606.4 887.6,605.1 887.8,602.2 886.7,599.5 886.7,596.7 884.5,595.2 881.9,594.5 879.5,593.5 877.3,592 876.2,589.2 875.4,586.4 871.7,583.6 873.1,581 874.5,578.4 876.4,576.1 874.9,573.3 873.6,570.5 871.9,568.5 869.7,566.9 868,564.9 867.5,561.1 867,557.4 866.3,553.6 865.1,549.9 861.8,549.8 858.6,550.9 857.1,547.9 856.1,544.6Z" fill="#2270ac" stroke="#2270ac" stroke-width=".6"/>
<path d="M813.9,535.5 817.3,536 820.2,537.8 823.3,536.8 826.7,536.6 829.6,535 832.4,538.7 835.6,538.3 838.6,539.7 841.8,539.6 844.9,539.9 848,540.3 851.1,540.6 854.9,541.5 856.1,544.6 857.1,547.9 858.6,550.9 861.8,549.8 865.1,549.9 866.3,553.6 867,557.4 867.5,561.1 868,564.9 869.7,566.9 871.9,568.5 873.6,570.5 874.9,573.3 876.4,576.1 874.5,578.4 873.1,581 871.7,583.6 875.4,586.4 876.2,589.2 877.3,592 879.5,593.5 881.9,594.5 884.5,595.2 886.7,596.7 886.7,599.5 887.8,602.2 887.6,605.1 885.2,607.1 883,609.3 881,611.7 880.1,614.3 881.1,617 881.3,619.7 880.6,622.3 880.6,624.9 879.7,627.5 880.1,630.2 877.5,630 877.4,626.9 876,624.1 875.4,621.1 875,618.1 875,615 871.6,613.4 869.8,618.1 866.2,619.7 862.3,619.9 860.4,617.1 858.5,614.3 856.1,616.3 853.4,618 851,619.9 849,617.7 847.7,614.9 845.3,613 843.6,610.6 840.8,609.7 838,608.7 833.3,610.6 832.5,613.3 830.5,615.3 828.6,618.1 825.8,619.9 822.8,617.6 819.2,616.2 816.4,612.1 812.9,612.6 809.9,614.3 807.3,615.2 804.6,615.7 802.1,616.8 799.1,618 795.8,617.3 792.7,618.3 789.7,617.6 786.6,617.1 783.8,615.7 780.7,615.3 777.8,614 774.8,613.3 771.8,612.5 768.7,612.5 766.3,610.7 763.8,609.3 760.9,608.4 762.1,605.4 762.8,602.3 763.3,599.1 764.7,596.2 761.1,594.6 757.2,594.3 761,594.9 764.7,594.3 768.4,593 772.2,592.5 774.7,593.2 777.3,593.9 779.9,594 782.5,594.3 782.5,590.6 780.1,588.4 778,586 775,584.5 777.9,581.9 780.6,579.2 783.1,578.1 785.9,577.7 788.4,576.7 791.2,576.5 793.9,576.9 796.5,576.4 799,575.2 801.7,575.8 804.3,575.5 805.7,573.2 807.9,571.6 809.5,569.5 807.3,567.5 805.7,565 806.3,561.7 807.6,558.5 810.3,557.3 811.9,554.7 814.6,553.5 812.9,550.7 812.5,547.5 811.5,544.5 812.1,541.4 813.6,538.6Z" fill="#7bafd6" stroke="#7bafd6" stroke-width=".6"/>
<path d="M707,504.6 710.3,503.4 713.7,502.6 717.2,502.7 720,502.4 722.9,502.6 725.7,502.1 728.5,501.8 731.7,501.4 734.6,500.1 737.8,499.9 740.1,501.7 743.1,502.6 745.3,504.6 747.9,504.7 750.5,504.1 753.2,505.3 755.8,504.6 758.4,504.6 760.1,506.9 762.2,509 764,511.2 765,513.7 766,516.2 766.8,518.7 765.9,523.3 768.6,524.2 771.5,524.1 774.2,524.6 777.1,524.3 779.8,522.9 782.8,522.5 785.4,521 788.4,520.5 791.4,519.1 794.5,518.2 797.7,517.7 798.6,513 801.2,512.4 803.8,512.5 806.3,511.4 808.9,511.2 810.1,514.9 810.8,518.7 810.1,521.8 810.6,525 809.5,528 809.9,531.8 811.7,533.9 813.9,535.5 813.6,538.6 812.1,541.4 811.5,544.5 812.5,547.5 812.9,550.7 814.6,553.5 811.9,554.7 810.3,557.3 807.6,558.5 806.3,561.7 805.7,565 807.3,567.5 809.5,569.5 807.9,571.6 805.7,573.2 804.3,575.5 801.7,575.8 799,575.2 796.5,576.4 793.9,576.9 791.2,576.5 788.4,576.7 785.9,577.7 783.1,578.1 780.6,579.2 777.9,581.9 775,584.5 772.8,586.6 770.4,588.4 768.4,590.6 766,589 763.5,587.9 760.9,586.8 757,587.2 753.4,588.7 750.8,588.1 748.1,588.9 745.5,588.3 742.9,588.5 740.3,587.8 741.5,585.2 741.6,582.3 741.3,578.4 739.7,574.8 737.8,572.4 735,571 737.2,568.1 739.7,565.4 742.3,563.3 745.3,561.7 743.5,559.2 741.5,556.8 738.8,555.1 735.4,553.9 732.2,552.3 731.2,549.7 729.2,547.5 728.5,544.8 729.5,541.2 729.4,537.4 726.6,535.9 723.8,534.2 721,532.7 717.8,532.1 714.7,530.9 711.6,529.9 711.5,526.7 710.3,523.6 709.8,520.5 708.6,517.9 707.3,515.4 706.1,512.8 705.1,510.2 706.4,507.5Z" fill="#5193c6" stroke="#5193c6" stroke-width=".6"/>
<path d="M687.3,499.9 691,501 694.8,500.9 697.7,502.5 700.4,504.6 703.7,504.6 707,504.6 706.4,507.5 705.1,510.2 706.1,512.8 707.3,515.4 708.6,517.9 709.8,520.5 710.3,523.6 711.5,526.7 711.6,529.9 714.7,530.9 717.8,532.1 721,532.7 723.8,534.2 726.6,535.9 729.4,537.4 729.5,541.2 728.5,544.8 729.2,547.5 731.2,549.7 732.2,552.3 735.4,553.9 738.8,555.1 741.5,556.8 743.5,559.2 745.3,561.7 742.3,563.3 739.7,565.4 737.2,568.1 735,571 737.8,572.4 739.7,574.8 741.3,578.4 741.6,582.3 741.5,585.2 740.3,587.8 737.2,588.7 734,589.5 731,590.6 727.5,592 724.4,594.3 723.1,597.3 723.8,600.7 722.6,603.7 720.4,606.2 719,609.1 717.4,611.9 716,614.9 713.6,616.8 712.6,619.9 710.5,622 708.5,624.3 706.8,626.3 704.6,627.8 703.1,630.1 701.5,632.2 699.2,633.6 696.6,635.5 694.1,637.4 691.9,639.6 689.8,642 688.2,644.2 686.3,646 684,647.5 682.3,649.5 684.3,651.5 687,652.3 687.1,655.4 685.7,658.3 685.1,661.4 685.1,664.5 684.8,661.5 683.3,658.9 681.7,656.2 680.5,653.3 677.4,652.3 674.2,653.3 671.1,652.3 668.7,653.5 665.9,653.6 663.6,655.1 661,655.7 658.9,657.3 656.8,659.1 654.3,659.8 651.9,662.3 648.7,663.6 645.9,662.7 643,662.6 640.3,662.1 638.5,660 636,659.2 633.7,657.9 631.3,654.9 629.9,651.4 632.7,648.2 636,648.9 639.3,648.6 639.9,645.8 639.7,642.9 641,640.3 641.2,637.4 643.7,635.5 646.8,634.8 649.6,633.6 650.2,630.8 650.1,628 650.5,625.2 652.9,624 655.4,623.2 658,622.4 658.8,619.2 659.6,616 660.8,613 659.9,610.1 658.6,607.3 657.1,604.6 657.7,601.2 658,597.7 660.9,596 664.2,595.2 667,593.4 668.2,596.2 670.6,598.2 672,600.9 674.8,599.9 676.7,597.7 679.3,600.5 682.3,602.7 684.2,600 687,598.1 689.7,600.3 692.6,602.2 695.9,601.8 698.9,600.6 702,599.6 699.8,597.5 697.3,595.8 695.4,593.4 695.3,590.4 694.7,587.5 694.9,584.5 695.4,581.5 694.8,578.5 692.9,576 691.6,573.1 689.2,571 687.6,568.9 685.8,566.9 683.6,565.4 681.4,562.8 679.8,559.8 679.2,556.7 679.8,553.5 678.9,550.5 675.9,549.3 673.3,547.6 672.4,544.6 670.5,542 668,540.9 665.9,539.2 663.9,537.4 665.1,534.5 666.7,531.7 666.8,528.9 667.3,526.1 666.8,523.3 666.7,520.5 665.9,517.5 664,515 663,512.1 660.2,511.5 657.4,512.1 655,510.7 653.6,508.4 656.2,506.8 659.4,507 661.9,505.1 664.9,504.6 668.7,504.5 672.3,505.6 675.4,505.2 678.6,505.6 681.7,504.6 684,503.2 685.4,500.9Z" fill="#004e8b" stroke="#004e8b" stroke-width=".6"/>
<path d="M697.6,484 702.3,483.5 705,483 707.6,482.3 710.1,480.9 712.8,480.8 715.4,479.8 716.7,477.4 717.8,474.9 719.5,472.7 721,470.4 723.8,469.7 726.7,469.8 729.5,469.5 732.2,468.5 735,468.7 737.7,468.9 740.5,468.8 743.2,468.5 745.9,467.5 748.7,467.6 751.7,466.3 755.1,466.1 758.1,464.8 761.3,463.9 764.2,462 767.4,461 770.7,460.2 773.5,458.2 776.8,457.3 777.9,454.8 779.5,452.6 781.5,450.7 786.1,451.7 788.3,454 791.3,455.1 793.6,457.3 796,455.8 798.6,454.8 801.1,453.5 801.4,450 803,447 801.3,442.8 803.9,440.4 807.4,440.7 810.5,442.3 813.2,443.5 815.3,445.7 818,447 820.1,449.1 821.7,451.7 823.9,453.9 825.3,456.7 827.3,459.1 830.9,457.6 834.8,457.3 837.2,458.7 840.1,459.2 842.3,461 844.6,462.4 847.5,462.3 849.8,463.8 852.6,464.8 855.3,466.1 858.2,466.6 855.3,466.9 852.7,468.2 849.8,468.5 846.7,467.7 843.6,467 840.4,466.6 836.6,467.4 832.9,468.5 834.1,471.2 834.8,474.1 831.7,475.5 829.2,477.9 828.2,482 828.9,485.3 829.5,488.7 829.3,491.9 827.9,494.9 827.7,498.1 825,500.6 822,502.7 819.5,504.2 816.9,505.5 814.6,507.4 811.8,509.4 808.9,511.2 806.3,511.4 803.8,512.5 801.2,512.4 798.6,513 797.7,517.7 794.5,518.2 791.4,519.1 788.4,520.5 785.4,521 782.8,522.5 779.8,522.9 777.1,524.3 774.2,524.6 771.5,524.1 768.6,524.2 765.9,523.3 766.8,518.7 766,516.2 765,513.7 764,511.2 762.2,509 760.1,506.9 758.4,504.6 755.8,504.6 753.2,505.3 750.5,504.1 747.9,504.7 745.3,504.6 743.1,502.6 740.1,501.7 737.8,499.9 734.6,500.1 731.7,501.4 728.5,501.8 725.7,502.1 722.9,502.6 720,502.4 717.2,502.7 713.7,502.6 710.3,503.4 707,504.6 703.7,504.6 700.4,504.6 697.7,502.5 694.8,500.9 691,501 687.3,499.9 688.4,496.7 688.2,493.4 690.1,490.2 692.9,487.8 695.4,486.1Z" fill="#98c0e0" stroke="#98c0e0" stroke-width=".6"/>
<path d="M687.3,443.3 692,442.3 693.8,439.7 694.8,436.7 697.6,436.7 700.5,436.6 703.2,435.8 706.1,438.3 709.8,439.5 711.8,436.8 713.5,433.9 716.5,433.6 719.6,433.8 722.4,432.1 725.5,432.6 728.5,432 731.4,430.8 734.1,429.2 735.8,427.2 738.1,425.7 739.7,423.6 740.9,419.9 740.6,416.1 741.2,413 741.4,409.8 742.5,406.8 744.4,404 747.2,402.1 745.3,398.4 748.2,398.4 750.9,399.3 753.2,401.9 754.7,404.9 758.5,404.8 762.2,404 763.8,400.6 765.9,397.4 766.4,394.4 768.6,392 769.3,389 770.6,386.6 772.9,384.9 774,382.4 776.5,383.6 778.7,385.2 779.9,387.6 782,389.4 783.3,391.8 783.6,394.5 784.9,396.9 786.1,399.3 788,401.5 789.3,404 789.9,406.8 791.6,408.9 792.7,411.4 794.6,413.3 796.6,415.3 798.6,417.5 800.2,419.9 799.4,422.6 799.2,425.5 796.2,427.6 793.6,430.1 791.8,432.5 789.9,434.8 793.1,436.1 795.5,438.6 798.6,440.4 801.3,442.8 803,447 801.4,450 801.1,453.5 798.6,454.8 796,455.8 793.6,457.3 791.3,455.1 788.3,454 786.1,451.7 781.5,450.7 779.5,452.6 777.9,454.8 776.8,457.3 773.5,458.2 770.7,460.2 767.4,461 764.2,462 761.3,463.9 758.1,464.8 755.1,466.1 751.7,466.3 748.7,467.6 745.9,467.5 743.2,468.5 740.5,468.8 737.7,468.9 735,468.7 732.2,468.5 729.5,469.5 726.7,469.8 723.8,469.7 721,470.4 719.5,472.7 717.8,474.9 716.7,477.4 715.4,479.8 712.8,480.8 710.1,480.9 707.6,482.3 705,483 702.3,483.5 697.6,484 696.9,481.2 695.3,478.8 694.8,476 694,472.9 692,470.4 690.9,467.7 688.1,466.1 687.3,463.2 685.4,461 684.6,457.9 684.1,454.6 682.6,451.7 683.6,448.6 686.3,446.4Z" fill="#4289be" stroke="#4289be" stroke-width=".6"/>
<path d="M613.6,413.8 616.3,413.1 618.5,411.2 621.1,410.4 623.7,409.6 626.3,409.4 628.9,408.6 631.5,408.2 634.2,408.4 636.8,407.7 639.9,407.3 643,406.2 646.1,405.8 648.9,405 651.8,404.5 654.6,404 655.5,406.9 656.9,409.7 658.3,412.4 658.2,415.7 659.2,418.9 662.4,418.6 665.5,419.1 668.6,419.9 671.2,418.4 674.4,418.7 677,417.1 677.8,419.9 677.7,422.7 677.9,425.5 678,428.7 678.7,431.9 679.8,434.9 681.4,437.3 683,439.6 685.9,440.8 687.3,443.3 686.3,446.4 683.6,448.6 682.6,451.7 684.1,454.6 684.6,457.9 685.4,461 687.3,463.2 688.1,466.1 690.9,467.7 692,470.4 694,472.9 694.8,476 695.3,478.8 696.9,481.2 697.6,484 695.4,486.1 692.9,487.8 690.1,490.2 688.2,493.4 688.4,496.7 687.3,499.9 685.4,500.9 684,503.2 681.7,504.6 678.6,505.6 675.4,505.2 672.3,505.6 668.7,504.5 664.9,504.6 661.9,505.1 659.4,507 656.2,506.8 653.6,508.4 651.5,506.3 648.9,504.7 646.1,503.7 643,503.2 639.9,502.7 636.8,502.7 634.5,501.3 632.8,499.1 630.2,498.1 627.7,496.8 625.4,495.1 622.3,495 619.9,493.4 617.2,492.6 615.2,490.8 613,489 610.6,487.8 607.5,487.1 604.5,485.9 601.2,486 600.9,483.2 599.2,480.8 599,478 598.5,474.9 597.9,471.8 598,468.6 597.6,466 598.5,463.4 598.3,460.7 598.7,458.1 598,455.5 600.2,453.4 601.6,450.8 602.7,448 605.4,447.5 607.9,446.3 610.7,446.3 613.4,445.7 615.8,444.3 616.1,441.4 615.8,438.6 614.4,435.9 614.9,433 613.8,430.6 612.7,428.2 612.1,425.6 613.1,422.7 612.5,419.7 613.3,416.8Z" fill="#5a98cc" stroke="#5a98cc" stroke-width=".6"/>
<path d="M554.4,385.1 557,383.2 560.1,382.1 562.8,380.4 564.9,378 568,376.7 570.1,374.4 572.2,372 574.5,369.6 577.6,368.1 579.6,365.4 582.2,364.5 584.6,363.2 587.3,362.6 589.9,361.7 590.8,364.3 591.5,367 592,369.7 593.1,372.3 593.7,375 595.9,376.6 598.1,378.1 600.6,379.4 602.7,381 605,382.5 606.2,384.9 606.7,387.6 607.8,390 607,392.9 606.2,395.7 604.4,398.2 604,401.2 605.9,404.2 608.3,406.8 609.7,409.4 612,411.4 613.6,413.8 613.3,416.8 612.5,419.7 613.1,422.7 612.1,425.6 612.7,428.2 613.8,430.6 614.9,433 614.4,435.9 615.8,438.6 616.1,441.4 615.8,444.3 613.4,445.7 610.7,446.3 607.9,446.3 605.4,447.5 602.7,448 601.6,450.8 600.2,453.4 598,455.5 598.7,458.1 598.3,460.7 598.5,463.4 597.6,466 598,468.6 597.9,471.8 598.5,474.9 599,478 595.2,477.5 591.5,478 588.2,477.9 585.2,479.1 582.1,479.8 579.1,480.7 576,481.5 572.8,481.7 570,483.6 567.2,485.4 564.9,483.8 562.3,482.7 559.7,481.7 559.1,478.3 557.3,475.4 555.9,472.3 554.9,469.6 555.1,466.7 554.9,463.8 554.1,461.1 554,458.1 554.2,455.1 554.2,452.1 554.5,449.1 554.1,446.1 554.9,443.2 553.8,440.1 554.7,437.2 555.1,434.2 555,431.2 555.2,428.5 554.2,426 553.8,423.3 553.6,420.7 553.1,418.1 552.1,415 553.1,411.8 552.2,408.7 551.9,405.5 550.9,402.5 550.3,399.4 551,396.2 552.5,393.2 553.1,390Z" fill="#2071ad" stroke="#2071ad" stroke-width=".6"/>
<path d="M522,397.4 522.5,394 524.9,391.3 525.4,387.9 528.5,387.3 531.6,387.2 534.7,387 537.3,385.5 539.7,383.9 542.2,382.3 545,382.3 547.8,382.3 551.3,383.1 554.4,385.1 553.1,390 552.5,393.2 551,396.2 550.3,399.4 550.9,402.5 551.9,405.5 552.2,408.7 553.1,411.8 552.1,415 553.1,418.1 553.6,420.7 553.8,423.3 554.2,426 555.2,428.5 555,431.2 555.1,434.2 554.7,437.2 553.8,440.1 554.9,443.2 554.1,446.1 554.5,449.1 554.2,452.1 554.2,455.1 554,458.1 554.1,461.1 554.9,463.8 555.1,466.7 554.9,469.6 555.9,472.3 557.3,475.4 559.1,478.3 559.7,481.7 556.9,482 554.1,482.3 551.3,481.7 550.3,477 546.6,477.6 542.8,477.9 539.7,476.5 537.2,474.2 532.5,474.2 531.7,471.1 529.7,468.6 527.4,465.7 524.1,463.9 521.1,462.9 517.8,463 514.8,462 512.9,457.4 510.4,456.1 508.2,454.2 505.4,453.6 504.5,450.8 503.4,448.2 504,445 502.6,442.4 501.3,439.9 499.5,437.7 498.9,434.9 498.4,432.1 496.9,429.5 497,426.5 497,421.8 499.8,420.6 502.6,419.2 505.4,418.1 506.9,415.7 507.3,412.8 509.1,410.6 511.9,408.2 514.8,405.9 516.9,404 518.9,402 519.7,399.1Z" fill="#2574af" stroke="#2574af" stroke-width=".6"/>
<path d="M429.6,459.2 428,456.6 427.9,453.3 425.6,451 424.9,448 424.9,445.1 423.3,442.5 424.2,439.5 423.1,436.8 422.5,433.6 420.7,430.9 419.7,427.8 419.3,424.6 420.2,422 421.7,419.9 423.1,417.7 424.8,415.7 426.9,413.9 427.9,411.4 429.4,409.3 431.3,407.4 432.4,405 433.8,402.6 435,400.1 437.2,398.2 438.6,395.8 440.2,393.5 442.3,391.2 444.9,389.3 446.3,386.2 448.7,384.2 451.3,382.7 452.7,379.9 455.1,378.2 458,377 459.9,374.8 462.6,373.4 465.7,373.4 468.2,371.7 471.1,371 471.6,367.8 473.3,365.1 474.5,362.1 474.9,358.9 477.2,360.3 480,360.4 482.3,361.7 484.5,363.5 487.1,364.6 489.8,365.4 491.6,367.6 493.3,369.8 495.8,371.5 497.3,373.9 501.1,374.5 504.8,375.7 507.6,376.7 510.5,377.1 513.2,378.5 514.1,382.3 514.6,385.6 515.5,388.7 517,391.6 519.5,394.5 522,397.4 519.7,399.1 518.9,402 516.9,404 514.8,405.9 511.9,408.2 509.1,410.6 507.3,412.8 506.9,415.7 505.4,418.1 502.6,419.2 499.8,420.6 497,421.8 497,426.5 493.5,426.2 490.1,427 486.7,427.4 485.1,430.4 484.5,433.8 482.9,436.8 484.5,440.2 486.7,443.3 484.3,444.4 481.5,444.7 479.2,446.1 476.2,447.1 472.9,446.3 469.9,447.1 467.2,448.1 464.2,448.1 461.3,448.9 458.6,449.9 457,452.9 454.9,455.5 454,458.3 454.8,461.1 454.6,463.9 453.6,466.7 453.9,469.5 450.6,470.1 447.4,469.5 445,468.2 443,466.2 440.1,465.7 438,463.9 434.9,462.8 432.1,461.2Z" fill="#004884" stroke="#004884" stroke-width=".6"/>
<path d="M453.9,469.5 453.6,466.7 454.6,463.9 454.8,461.1 454,458.3 454.9,455.5 457,452.9 458.6,449.9 461.3,448.9 464.2,448.1 467.2,448.1 469.9,447.1 472.9,446.3 476.2,447.1 479.2,446.1 481.5,444.7 484.3,444.4 486.7,443.3 484.5,440.2 482.9,436.8 484.5,433.8 485.1,430.4 486.7,427.4 490.1,427 493.5,426.2 497,426.5 496.9,429.5 498.4,432.1 498.9,434.9 499.5,437.7 501.3,439.9 502.6,442.4 504,445 503.4,448.2 504.5,450.8 505.4,453.6 508.2,454.2 510.4,456.1 512.9,457.4 514.8,462 517.8,463 521.1,462.9 524.1,463.9 527.4,465.7 529.7,468.6 531.7,471.1 532.5,474.2 529.7,478 529,481.1 529.1,484.2 529.7,487.3 526.6,488.4 523.4,489.5 520.4,491 519,493.4 516.8,494.9 514.8,496.7 512.5,498.1 511,500.4 509.3,502.4 507.3,504.1 506.3,506.9 505.9,509.9 504.1,512.5 503.5,515.4 503.7,518.2 505.1,520.9 505.2,523.7 505.4,526.6 503,525.2 501.2,523.3 499.8,521 498.5,518.1 496.1,516 494.2,513.5 492.9,510.4 491.8,507.2 490.4,504.1 489.1,501.7 488.3,499 486.7,496.7 485.3,494.1 483.3,492 481.1,490.1 478.2,489.6 475.5,488.2 475.3,484.7 473.6,481.7 470.7,480.4 468.7,477.9 466.1,476.1 462.9,474.7 459.6,473.3 456.7,471.4Z" fill="#025394" stroke="#025394" stroke-width=".6"/>
<path d="M429.6,459.2 432.1,461.2 434.9,462.8 438,463.9 440.1,465.7 443,466.2 445,468.2 447.4,469.5 450.6,470.1 453.9,469.5 456.7,471.4 459.6,473.3 462.9,474.7 466.1,476.1 468.7,477.9 470.7,480.4 473.6,481.7 475.3,484.7 475.5,488.2 478.2,489.6 481.1,490.1 483.3,492 485.3,494.1 486.7,496.7 488.3,499 489.1,501.7 490.4,504.1 491.8,507.2 492.9,510.4 494.2,513.5 491.5,514.6 488.6,514.4 485.5,513.5 482.2,513 479.2,511.6 476.1,512.1 473,511.9 469.9,511.6 466.7,511.6 463.5,510.9 460.5,509.8 457.3,509.9 454.2,510.6 451.1,511.6 448.6,510.2 446.3,508.3 443.7,507 440.1,505.4 436.2,505.1 433.6,507.3 431.5,509.8 429.6,512.6 428.2,510.2 426.8,507.9 424.2,506.4 421.9,504.5 419.4,502.8 417.5,500.4 414.5,499.2 411.4,498.4 408.1,498.5 407.2,494.7 406.2,491 403.2,489.4 400.6,487.3 400.7,484.1 401.9,481.1 402.5,478 404.6,476 405.9,473.4 407.1,470.7 409,468.6 410.5,466.4 412,464.2 412.1,461.4 413.7,459.2 415.1,456.5 416.2,453.8 416.5,450.8 419.6,452.6 423.1,453.6 425.4,455.3 427.3,457.5Z" fill="#3b81ba" stroke="#3b81ba" stroke-width=".6"/>
<path d="M532.5,474.2 537.2,474.2 539.7,476.5 542.8,477.9 546.6,477.6 550.3,477 551.3,481.7 554.1,482.3 556.9,482 559.7,481.7 562.3,482.7 564.9,483.8 567.2,485.4 570,483.6 572.8,481.7 576,481.5 579.1,480.7 582.1,479.8 585.2,479.1 588.2,477.9 591.5,478 595.2,477.5 599,478 599.2,480.8 600.9,483.2 601.2,486 598,486.4 594.8,487.5 591.5,487.3 588.4,487.4 585.2,487.5 582.1,487.3 578.3,487.2 574.6,488.2 574.4,491.2 575.6,493.9 572.8,493 570,492 569,496.7 565.7,497.3 562.6,498.6 559.7,500.4 557.7,502.4 557.2,505.3 555.7,507.6 554.1,509.8 551.5,510.4 548.9,510.8 546.2,510.3 543.7,512 541,511.6 538.1,512.7 534.9,512.7 532,514 528.9,514.1 526,515.4 522.9,516.3 519.6,515.9 516.6,517.2 515.1,519.5 512.9,521 511.3,523.1 509.1,524.7 505.4,526.6 505.2,523.7 505.1,520.9 503.7,518.2 503.5,515.4 504.1,512.5 505.9,509.9 506.3,506.9 507.3,504.1 509.3,502.4 511,500.4 512.5,498.1 514.8,496.7 516.8,494.9 519,493.4 520.4,491 523.4,489.5 526.6,488.4 529.7,487.3 529.1,484.2 529,481.1 529.7,478Z" fill="#055596" stroke="#055596" stroke-width=".6"/>
<path d="M838,608.7 843.6,610.6 851,619.9 854.8,623.7 860.4,625.6 866,631.2 873.5,634.9 879.1,638.7 884.7,642.4 888.5,649.9 883.8,656.4 892.2,659.2 897.8,662 905.3,663 912.8,659.2 916.5,651.8 918.4,655.5 924,654.6 927.8,651.8 939,651.8 945.5,655.5 940.9,658.3 939,663 938.1,672.3 927.8,673.3 916.5,676.1 909.1,668.6 901.6,670.5 899.7,676.1 892.2,681.7 888.5,686.4 881,686.4 869.8,690.1 862.3,695.7 854.8,702.3 849.2,707.9 838,708.3 830.5,704.1 824.9,699.5 829.5,693.9 832.3,687.3 832.3,676.1 827.7,666.7 820.2,667.7 813.6,662 806.1,658.3 794.9,659.2 790.2,655.5 792.1,651.8 804.3,644.3 815.5,635.8 828.6,630.2 834.2,623.7 833.3,611.5Z" fill="#d0d0d0"/>
</g>
<g fill="none" stroke="#c6e1f7" stroke-opacity=".95" stroke-width="1" stroke-linejoin="round">
<path d="M533.8,283.5 532.8,287 531.9,290.6 531.5,293.9 530.5,296.9 529.1,299.9 529.9,302.7 530.5,305.5 530.9,308.3 531,311.2 533.8,313 536.8,314.6 539.4,316.8 540.3,319.3 541.2,321.7 543.5,323.5 544.1,326.1 545.6,329 546.7,332.1 548.8,334.6 547.8,337.1 547.3,339.9 545.5,342.2 545,344.9 542.9,346.5 541.3,348.6 541.2,351.2 540.9,353.8 540.5,356.4 539.4,358.9 537.2,356.4 534.7,354.2 532.1,354.9 529.6,356.3 526.9,356.5 524.4,357.8 521.6,358 519.5,360.9 517,363.6 514.4,364.6 512.3,366.4 513.1,369.4 513.4,372.4 512.7,375.5 513.2,378.5"/>
<path d="M513.2,378.5 510.5,377.1 507.6,376.7 504.8,375.7 501.1,374.5 497.3,373.9 495.8,371.5 493.3,369.8 491.6,367.6 489.8,365.4 487.1,364.6 484.5,363.5 482.3,361.7 480,360.4 477.2,360.3 474.9,358.9"/>
<path d="M610.5,300.9 609.3,303.4 607.9,305.7 605.9,307.6 604.9,310.2 601.2,312.1 601,315.2 601,318.2 601,321.3 600.2,324.3 598.6,326.5 597.5,329 595.9,331.1 594.2,333.3 592.7,335.5 592,338.6 591.2,341.7 590.9,344.9 591.2,348.1 591.9,351.1 592.7,354.2 591.2,356.5 590.4,359 589.9,361.7"/>
<path d="M589.9,361.7 587.3,362.6 584.6,363.2 582.2,364.5 579.6,365.4 577.6,368.1 574.5,369.6 572.2,372 570.1,374.4 568,376.7 564.9,378 562.8,380.4 560.1,382.1 557,383.2 554.4,385.1"/>
<path d="M554.4,385.1 551.3,383.1 547.8,382.3 545,382.3 542.2,382.3 539.7,383.9 537.3,385.5 534.7,387 531.6,387.2 528.5,387.3 525.4,387.9 524.9,391.3 522.5,394 522,397.4"/>
<path d="M522,397.4 519.5,394.5 517,391.6 515.5,388.7 514.6,385.6 514.1,382.3 513.2,378.5"/>
<path d="M522,397.4 519.7,399.1 518.9,402 516.9,404 514.8,405.9 511.9,408.2 509.1,410.6 507.3,412.8 506.9,415.7 505.4,418.1 502.6,419.2 499.8,420.6 497,421.8 497,426.5"/>
<path d="M497,426.5 493.5,426.2 490.1,427 486.7,427.4 485.1,430.4 484.5,433.8 482.9,436.8 484.5,440.2 486.7,443.3 484.3,444.4 481.5,444.7 479.2,446.1 476.2,447.1 472.9,446.3 469.9,447.1 467.2,448.1 464.2,448.1 461.3,448.9 458.6,449.9 457,452.9 454.9,455.5 454,458.3 454.8,461.1 454.6,463.9 453.6,466.7 453.9,469.5"/>
<path d="M453.9,469.5 450.6,470.1 447.4,469.5 445,468.2 443,466.2 440.1,465.7 438,463.9 434.9,462.8 432.1,461.2 429.6,459.2"/>
<path d="M453.9,469.5 456.7,471.4 459.6,473.3 462.9,474.7 466.1,476.1 468.7,477.9 470.7,480.4 473.6,481.7 475.3,484.7 475.5,488.2 478.2,489.6 481.1,490.1 483.3,492 485.3,494.1 486.7,496.7 488.3,499 489.1,501.7 490.4,504.1 491.8,507.2 492.9,510.4 494.2,513.5"/>
<path d="M497,426.5 496.9,429.5 498.4,432.1 498.9,434.9 499.5,437.7 501.3,439.9 502.6,442.4 504,445 503.4,448.2 504.5,450.8 505.4,453.6 508.2,454.2 510.4,456.1 512.9,457.4 514.8,462 517.8,463 521.1,462.9 524.1,463.9 527.4,465.7 529.7,468.6 531.7,471.1 532.5,474.2"/>
<path d="M532.5,474.2 529.7,478 529,481.1 529.1,484.2 529.7,487.3 526.6,488.4 523.4,489.5 520.4,491 519,493.4 516.8,494.9 514.8,496.7 512.5,498.1 511,500.4 509.3,502.4 507.3,504.1 506.3,506.9 505.9,509.9 504.1,512.5 503.5,515.4 503.7,518.2 505.1,520.9 505.2,523.7 505.4,526.6"/>
<path d="M532.5,474.2 537.2,474.2 539.7,476.5 542.8,477.9 546.6,477.6 550.3,477 551.3,481.7 554.1,482.3 556.9,482 559.7,481.7"/>
<path d="M559.7,481.7 559.1,478.3 557.3,475.4 555.9,472.3 554.9,469.6 555.1,466.7 554.9,463.8 554.1,461.1 554,458.1 554.2,455.1 554.2,452.1 554.5,449.1 554.1,446.1 554.9,443.2 553.8,440.1 554.7,437.2 555.1,434.2 555,431.2 555.2,428.5 554.2,426 553.8,423.3 553.6,420.7 553.1,418.1 552.1,415 553.1,411.8 552.2,408.7 551.9,405.5 550.9,402.5 550.3,399.4 551,396.2 552.5,393.2 553.1,390 554.4,385.1"/>
<path d="M559.7,481.7 562.3,482.7 564.9,483.8 567.2,485.4 570,483.6 572.8,481.7 576,481.5 579.1,480.7 582.1,479.8 585.2,479.1 588.2,477.9 591.5,478 595.2,477.5 599,478"/>
<path d="M599,478 599.2,480.8 600.9,483.2 601.2,486"/>
<path d="M599,478 598.5,474.9 597.9,471.8 598,468.6 597.6,466 598.5,463.4 598.3,460.7 598.7,458.1 598,455.5 600.2,453.4 601.6,450.8 602.7,448 605.4,447.5 607.9,446.3 610.7,446.3 613.4,445.7 615.8,444.3 616.1,441.4 615.8,438.6 614.4,435.9 614.9,433 613.8,430.6 612.7,428.2 612.1,425.6 613.1,422.7 612.5,419.7 613.3,416.8 613.6,413.8"/>
<path d="M613.6,413.8 612,411.4 609.7,409.4 608.3,406.8 605.9,404.2 604,401.2 604.4,398.2 606.2,395.7 607,392.9 607.8,390 606.7,387.6 606.2,384.9 605,382.5 602.7,381 600.6,379.4 598.1,378.1 595.9,376.6 593.7,375 593.1,372.3 592,369.7 591.5,367 590.8,364.3 589.9,361.7"/>
<path d="M613.6,413.8 616.3,413.1 618.5,411.2 621.1,410.4 623.7,409.6 626.3,409.4 628.9,408.6 631.5,408.2 634.2,408.4 636.8,407.7 639.9,407.3 643,406.2 646.1,405.8 648.9,405 651.8,404.5 654.6,404 655.5,406.9 656.9,409.7 658.3,412.4 658.2,415.7 659.2,418.9 662.4,418.6 665.5,419.1 668.6,419.9 671.2,418.4 674.4,418.7 677,417.1"/>
<path d="M669.3,321.4 670.1,324 670.9,326.6 672.5,328.8 673.7,331.2 674.9,333.6 675.1,337 676.2,340.4 675.8,343.9 677.2,346.7 678,349.7 679.6,352.3 678.3,355.4 677.6,358.7 675.8,361.6 676.7,364.8 676.9,368.1 677.9,371.2 680,373.5 681.5,376.3 683.6,378.7 683.3,381.8 683.5,385 682.6,388.1 683.3,391.2 683.2,394.4 684.5,397.4 683.8,400.3 683.2,403.2 681.7,405.8 678.2,407.3 675.1,409.6 676.3,413.3 677,417.1"/>
<path d="M677,417.1 677.8,419.9 677.7,422.7 677.9,425.5 678,428.7 678.7,431.9 679.8,434.9 681.4,437.3 683,439.6 685.9,440.8 687.3,443.3"/>
<path d="M687.3,443.3 692,442.3 693.8,439.7 694.8,436.7 697.6,436.7 700.5,436.6 703.2,435.8 706.1,438.3 709.8,439.5 711.8,436.8 713.5,433.9 716.5,433.6 719.6,433.8 722.4,432.1 725.5,432.6 728.5,432 731.4,430.8 734.1,429.2 735.8,427.2 738.1,425.7 739.7,423.6 740.9,419.9 740.6,416.1 741.2,413 741.4,409.8 742.5,406.8 744.4,404 747.2,402.1 745.3,398.4 748.2,398.4 750.9,399.3 753.2,401.9 754.7,404.9 758.5,404.8 762.2,404 763.8,400.6 765.9,397.4 766.4,394.4 768.6,392 769.3,389 770.6,386.6 772.9,384.9 774,382.4"/>
<path d="M774,382.4 774.6,378.6 775.8,375"/>
<path d="M718,322.3 717.2,324.9 715.8,327.2 715.1,329.8 716.2,332.3 716.4,335 718,337.3 719.6,339.7 721.7,341.7 723.6,343.9 724.8,347.1 725.4,350.4 728.6,350.2 731.7,351.2 734.8,351.5 737.4,353.3 740.3,354.5 740.6,358.2 742.3,361.6 744.8,363.4 747.4,364.9 749.8,366.8 752.8,365.7 755.9,365.2 759.1,365 761.8,362.4 765.2,360.8 768.2,362.3 770.3,365 771.6,367.6 772.5,370.3 774.1,372.7 775.8,375"/>
<path d="M775.8,375 778.4,373.5 781.7,373.8 784.3,372.1 786.7,373.4 789.1,374.4 791.8,374.9 795,375.2 797.9,373.7 801.1,374 803.7,372.7 805.8,370.4 808.6,369.3 810,366.2 812.3,363.7"/>
<path d="M823.7,254.6 822.6,257.1 823.1,260 821.8,262.5 822.8,265.2 822.7,268.1 825.2,270.2 827.4,272.7 824.7,274.1 822.7,276.5 820.9,281.2 818.7,282.8 816.8,284.8 814.3,285.8 814.1,289.3 812.5,292.4 812.8,295.1 814.3,297.4 815.3,299.9 816.3,303.6 816.2,307.4 814.7,309.9 813.6,312.7 811.5,314.8 810.9,317.9 811.5,321.1 810.6,324.2 809.8,326.7 808.5,329.1 807.8,331.7 810.3,333.2 812.5,335 814.3,337.3 814.7,340 815.8,342.5 817.1,344.8 817.5,347.9 816.5,351 817.1,354.1 815.5,356.8 814.3,359.8 812.3,363.7"/>
<path d="M812.3,363.7 816.2,364.2 819.8,365.6 823.1,366 825.9,368.2 829.2,368.4 832,368.7 834.8,368.8 837.6,368.5 840.4,368.4 842.4,366 845.1,364.6 848.4,365.1 851.6,365.6 853.9,367.1 855.5,369.2 856.8,371.7 859.1,373.1 861.5,374.8 863.3,377.1 864.7,379.6 865.9,382.2 867,385 868.5,387.5 870.9,388.5 873.3,389.7 876,389.9 879.4,389.2 882.5,387.6"/>
<path d="M882.5,387.6 885.3,384.3 887.9,383.2 890.6,382.4 892.8,380.6 895.5,380.2 897.9,378.9 900.3,377.7 904.2,377.6 908,376.8"/>
<path d="M882.5,387.6 881.7,390.3 881.9,393.2 881.2,396 882.8,399.6 885.5,402.5 888.7,404.2 891.5,406.5 892.4,409.1 893.8,411.5 895,414 897.9,416.1 901.2,417.5 902.5,420.3 903.2,423.3 901.1,426.1 899,429 898,431.6 897.3,434.3 896.5,436.9 893.4,437.1 890.3,436.8 887.2,437 886.2,440.5 885.4,444"/>
<path d="M885.4,444 881.6,444.4 877.8,445.1 874.6,446.2 871.9,448.3 868.5,448.9 866,450.2 863.5,451.4 861,452.6 860.8,455.3 859.6,457.7 859.1,460.4 858.6,463 858.2,466.6"/>
<path d="M858.2,466.6 855.3,466.1 852.6,464.8 849.8,463.8 847.5,462.3 844.6,462.4 842.3,461 840.1,459.2 837.2,458.7 834.8,457.3 830.9,457.6 827.3,459.1 825.3,456.7 823.9,453.9 821.7,451.7 820.1,449.1 818,447 815.3,445.7 813.2,443.5 810.5,442.3 807.4,440.7 803.9,440.4 801.3,442.8"/>
<path d="M801.3,442.8 798.6,440.4 795.5,438.6 793.1,436.1 789.9,434.8 791.8,432.5 793.6,430.1 796.2,427.6 799.2,425.5 799.4,422.6 800.2,419.9 798.6,417.5 796.6,415.3 794.6,413.3 792.7,411.4 791.6,408.9 789.9,406.8 789.3,404 788,401.5 786.1,399.3 784.9,396.9 783.6,394.5 783.3,391.8 782,389.4 779.9,387.6 778.7,385.2 776.5,383.6 774,382.4"/>
<path d="M801.3,442.8 803,447 801.4,450 801.1,453.5 798.6,454.8 796,455.8 793.6,457.3 791.3,455.1 788.3,454 786.1,451.7 781.5,450.7 779.5,452.6 777.9,454.8 776.8,457.3 773.5,458.2 770.7,460.2 767.4,461 764.2,462 761.3,463.9 758.1,464.8 755.1,466.1 751.7,466.3 748.7,467.6 745.9,467.5 743.2,468.5 740.5,468.8 737.7,468.9 735,468.7 732.2,468.5 729.5,469.5 726.7,469.8 723.8,469.7 721,470.4 719.5,472.7 717.8,474.9 716.7,477.4 715.4,479.8 712.8,480.8 710.1,480.9 707.6,482.3 705,483 702.3,483.5 697.6,484"/>
<path d="M697.6,484 696.9,481.2 695.3,478.8 694.8,476 694,472.9 692,470.4 690.9,467.7 688.1,466.1 687.3,463.2 685.4,461 684.6,457.9 684.1,454.6 682.6,451.7 683.6,448.6 686.3,446.4 687.3,443.3"/>
<path d="M697.6,484 695.4,486.1 692.9,487.8 690.1,490.2 688.2,493.4 688.4,496.7 687.3,499.9"/>
<path d="M687.3,499.9 685.4,500.9 684,503.2 681.7,504.6 678.6,505.6 675.4,505.2 672.3,505.6 668.7,504.5 664.9,504.6 661.9,505.1 659.4,507 656.2,506.8 653.6,508.4"/>
<path d="M687.3,499.9 691,501 694.8,500.9 697.7,502.5 700.4,504.6 703.7,504.6 707,504.6"/>
<path d="M707,504.6 706.4,507.5 705.1,510.2 706.1,512.8 707.3,515.4 708.6,517.9 709.8,520.5 710.3,523.6 711.5,526.7 711.6,529.9 714.7,530.9 717.8,532.1 721,532.7 723.8,534.2 726.6,535.9 729.4,537.4 729.5,541.2 728.5,544.8 729.2,547.5 731.2,549.7 732.2,552.3 735.4,553.9 738.8,555.1 741.5,556.8 743.5,559.2 745.3,561.7 742.3,563.3 739.7,565.4 737.2,568.1 735,571 737.8,572.4 739.7,574.8 741.3,578.4 741.6,582.3 741.5,585.2 740.3,587.8"/>
<path d="M707,504.6 710.3,503.4 713.7,502.6 717.2,502.7 720,502.4 722.9,502.6 725.7,502.1 728.5,501.8 731.7,501.4 734.6,500.1 737.8,499.9 740.1,501.7 743.1,502.6 745.3,504.6 747.9,504.7 750.5,504.1 753.2,505.3 755.8,504.6 758.4,504.6 760.1,506.9 762.2,509 764,511.2 765,513.7 766,516.2 766.8,518.7 765.9,523.3 768.6,524.2 771.5,524.1 774.2,524.6 777.1,524.3 779.8,522.9 782.8,522.5 785.4,521 788.4,520.5 791.4,519.1 794.5,518.2 797.7,517.7 798.6,513 801.2,512.4 803.8,512.5 806.3,511.4 808.9,511.2"/>
<path d="M808.9,511.2 811.8,509.4 814.6,507.4 816.9,505.5 819.5,504.2 822,502.7 825,500.6 827.7,498.1 827.9,494.9 829.3,491.9 829.5,488.7 828.9,485.3 828.2,482 829.2,477.9 831.7,475.5 834.8,474.1 834.1,471.2 832.9,468.5 836.6,467.4 840.4,466.6 843.6,467 846.7,467.7 849.8,468.5 852.7,468.2 855.3,466.9 858.2,466.6"/>
<path d="M808.9,511.2 810.1,514.9 810.8,518.7 810.1,521.8 810.6,525 809.5,528 809.9,531.8 811.7,533.9 813.9,535.5"/>
<path d="M813.9,535.5 813.6,538.6 812.1,541.4 811.5,544.5 812.5,547.5 812.9,550.7 814.6,553.5 811.9,554.7 810.3,557.3 807.6,558.5 806.3,561.7 805.7,565 807.3,567.5 809.5,569.5 807.9,571.6 805.7,573.2 804.3,575.5 801.7,575.8 799,575.2 796.5,576.4 793.9,576.9 791.2,576.5 788.4,576.7 785.9,577.7 783.1,578.1 780.6,579.2 777.9,581.9 775,584.5"/>
<path d="M813.9,535.5 817.3,536 820.2,537.8 823.3,536.8 826.7,536.6 829.6,535 832.4,538.7 835.6,538.3 838.6,539.7 841.8,539.6 844.9,539.9 848,540.3 851.1,540.6 854.9,541.5"/>
<path d="M854.9,541.5 857.5,540.1 860.5,539.5 863.5,539.3 866.1,537.8 868.8,537.8 871.5,537.4 874.2,537.3 876.9,537.1 879.6,537.6 882.3,537.5 882.7,534.5 882.6,531.5 882.3,528.5 881.1,526 880.5,523.3 880.4,520.6 879.5,518 878.9,515.1 880.3,512.2 880.4,509.3 879.9,506.4 882.4,505.4 885.1,505.4 887.8,505.7 890.4,505.1 893,504.5 895.7,505.7 898.8,505.5 901.6,506.1 904.3,507.3 907.2,507.4 909.9,506.2 912.8,506.5 915.5,505.4 917.9,507.8 921.3,508.9 923.9,511 925.3,513.3 925.2,516.2 926.7,518.5 930.5,519.4 934.2,520.4 937.3,520.5 940.5,520.3 943.6,520.4"/>
<path d="M854.9,541.5 856.1,544.6 857.1,547.9 858.6,550.9 861.8,549.8 865.1,549.9 866.3,553.6 867,557.4 867.5,561.1 868,564.9 869.7,566.9 871.9,568.5 873.6,570.5 874.9,573.3 876.4,576.1 874.5,578.4 873.1,581 871.7,583.6 875.4,586.4 876.2,589.2 877.3,592 879.5,593.5 881.9,594.5 884.5,595.2 886.7,596.7 886.7,599.5 887.8,602.2 887.6,605.1"/>
<path d="M943.6,520.4 943.7,517.5 944.9,514.9 944.6,511.9 945.4,509.2 948.6,509 951.5,507.3 954.8,507.3 955.4,504.5 956.8,502.1 958.5,499.8 957.4,497 955.8,494.6 953.9,492.3 954.6,489.5 954.9,486.7 955.1,483.9 954.8,481.1 953.4,478.5 952.7,475.6 951.3,473 950.1,470.2 949,467.5"/>
<path d="M943.6,520.4 947.5,523.7 949.3,526 950.2,529 952.2,531.2 954.3,533.5 956.8,535.3 959.6,536.8 961.9,538.2 964.2,539.8 966.6,541.1 969,542.5 967.9,545.2 967.1,548.1 964.2,548.7 961.6,550.2 958.7,550.9 957,553.5 955.9,556.5 957.5,559.5 959.6,562.1 961.2,564.8 963.7,566.9 965.3,569.6 964.3,574.3"/>
<path d="M885.4,444 889,445.3 892.5,446.7 894.8,448.5 897,450.4 900.1,450.9 902.3,452.8 905.2,454.7 908.5,455.7 911.6,457 914.7,457.3 917.9,456.6 921,457 923,459.4 924.5,462.2 926.6,464.5 927.5,467.4 928.9,469.9 930.8,472.2 932.2,474.8 934.8,477 936.4,480 939.4,477.8 941.6,474.8 944.9,474.7 948.1,475.7 948.4,473 948.8,470.2 949,467.5"/>
<path d="M949,467.5 951.6,466.5 954.2,466.1 957,466.4 959.7,465.9 962.3,465.2 964.6,463.1 967.3,461.5 969.8,459.6 972.4,457.5 974.5,454.9 977.2,453 978.8,450.8 978.5,447.9 980,445.6 982.1,443.4 984.7,441.8 987.8,442.8 991,441.8 994.1,442.7"/>
<path d="M994.1,442.7 993.7,439.9 993.3,437.1 992.8,434.3 993.3,431.4 992.2,428.7 993.6,426.3 994,423.6 995,421 996.6,418.2 997.4,415.2 997.8,412 998.2,409 998.4,406 999.7,403.2"/>
<path d="M994.1,442.7 996.6,444.3 999.4,445.4 1001.6,447.4 1000.6,449.9 1000.2,452.5 999.8,455.1 999.7,457.7 1002.2,458.9 1004.2,460.6 1006.3,462.3 1008.1,464.3 1007.7,467.1 1008.5,469.9 1007.4,472.7 1008.1,475.5 1008.7,478.2 1009.6,480.9 1010.6,483.5 1011.8,486 1012.8,488.6 1014.6,490.5 1015.9,492.9 1017.6,494.9 1019.6,496.7 1020.3,501.2 1022.9,503.2 1025.6,505 1027.4,508.4 1029.3,511.7 1032,512.1 1034.8,512.1 1037.5,512.4 1038,515.7"/>
</g>
<path d="M704,370.5 L709,371 L712,375 L714,379.5 L716,375 L721,372 L726,371" fill="none" stroke="#cfe2f3" stroke-width=".7"/>
<rect x="690.8" y="359.2" width="46" height="10.6" fill="#0a2c57"/>
<g font-family="'Liberation Sans',sans-serif" font-weight="bold" fill="#fff" text-anchor="middle">
<text x="713.7" y="368.6" font-size="10.3" textLength="21.5" lengthAdjust="spacingAndGlyphs">Київ</text>
<text x="697.6" y="391.2" text-anchor="start" font-size="14.4" font-weight="normal" stroke="#fff" stroke-width=".6" lengthAdjust="spacingAndGlyphs" textLength="24.4">64,0</text>
<text x="730" y="391.2" text-anchor="end" font-size="14.4" font-weight="normal" stroke="#fff" stroke-width=".6" lengthAdjust="spacingAndGlyphs" textLength="8">...</text>
<text x="500.2" y="323.9" font-size="10.3" textLength="55.2" lengthAdjust="spacingAndGlyphs">Волинська</text>
<text x="469.1" y="344.6" text-anchor="start" font-size="14.4" font-weight="normal" stroke="#fff" stroke-width=".6" lengthAdjust="spacingAndGlyphs" textLength="32.2">22,91</text>
<text x="532.1" y="344.6" text-anchor="end" font-size="14.4" font-weight="normal" stroke="#fff" stroke-width=".6" lengthAdjust="spacingAndGlyphs" textLength="27.2">тыс.</text>
<text x="564.9" y="309.7" font-size="10.3" textLength="56.5" lengthAdjust="spacingAndGlyphs">Рівненська</text>
<text x="540.7" y="330.6" text-anchor="start" font-size="14.4" font-weight="normal" stroke="#fff" stroke-width=".6" lengthAdjust="spacingAndGlyphs" textLength="32.2">29,32</text>
<text x="604.5" y="330.6" text-anchor="end" font-size="14.4" font-weight="normal" stroke="#fff" stroke-width=".6" lengthAdjust="spacingAndGlyphs" textLength="27.2">тыс.</text>
<text x="634" y="352.8" font-size="10.3" textLength="70.9" lengthAdjust="spacingAndGlyphs">Житомирська</text>
<text x="602.9" y="374.9" text-anchor="start" font-size="14.4" font-weight="normal" stroke="#fff" stroke-width=".6" lengthAdjust="spacingAndGlyphs" textLength="32.2">27,93</text>
<text x="666.9" y="374.9" text-anchor="end" font-size="14.4" font-weight="normal" stroke="#fff" stroke-width=".6" lengthAdjust="spacingAndGlyphs" textLength="27.2">тыс.</text>
<text x="767.1" y="309.6" font-size="10.3" textLength="62.7" lengthAdjust="spacingAndGlyphs">Чернігівська</text>
<text x="736.5" y="330.5" text-anchor="start" font-size="14.4" font-weight="normal" stroke="#fff" stroke-width=".6" lengthAdjust="spacingAndGlyphs" textLength="32.2">16,49</text>
<text x="799.5" y="330.5" text-anchor="end" font-size="14.4" font-weight="normal" stroke="#fff" stroke-width=".6" lengthAdjust="spacingAndGlyphs" textLength="27.2">тыс.</text>
<text x="843.3" y="333.6" font-size="10.3" textLength="43" lengthAdjust="spacingAndGlyphs">Сумська</text>
<text x="821.8" y="353.5" text-anchor="start" font-size="14.4" font-weight="normal" stroke="#fff" stroke-width=".6" lengthAdjust="spacingAndGlyphs" textLength="32.2">25,66</text>
<text x="865.4" y="353.5" text-anchor="end" font-size="14.4" font-weight="normal" stroke="#fff" stroke-width=".6" lengthAdjust="spacingAndGlyphs" textLength="8">...</text>
<text x="708.6" y="409" font-size="10.3" textLength="43.4" lengthAdjust="spacingAndGlyphs">Київська</text>
<text x="677.3" y="429.6" text-anchor="start" font-size="14.4" font-weight="normal" stroke="#fff" stroke-width=".6" lengthAdjust="spacingAndGlyphs" textLength="32.2">34,24</text>
<text x="740.3" y="429.6" text-anchor="end" font-size="14.4" font-weight="normal" stroke="#fff" stroke-width=".6" lengthAdjust="spacingAndGlyphs" textLength="27.2">тыс.</text>
<text x="736.9" y="445.1" font-size="10.3" textLength="52.4" lengthAdjust="spacingAndGlyphs">Черкаська</text>
<text x="704.5" y="465.5" text-anchor="start" font-size="14.4" font-weight="normal" stroke="#fff" stroke-width=".6" lengthAdjust="spacingAndGlyphs" textLength="32.2">20,67</text>
<text x="767.5" y="465.5" text-anchor="end" font-size="14.4" font-weight="normal" stroke="#fff" stroke-width=".6" lengthAdjust="spacingAndGlyphs" textLength="27.2">тыс.</text>
<text x="644.7" y="456" font-size="10.3" textLength="51.5" lengthAdjust="spacingAndGlyphs">Вінницька</text>
<text x="614" y="477.3" text-anchor="start" font-size="14.4" font-weight="normal" stroke="#fff" stroke-width=".6" lengthAdjust="spacingAndGlyphs" textLength="32.2">16,37</text>
<text x="677" y="477.3" text-anchor="end" font-size="14.4" font-weight="normal" stroke="#fff" stroke-width=".6" lengthAdjust="spacingAndGlyphs" textLength="27.2">тыс.</text>
<text x="836.7" y="404.9" font-size="10.3" textLength="59.9" lengthAdjust="spacingAndGlyphs">Полтавська</text>
<text x="804.9" y="423.9" text-anchor="start" font-size="14.4" font-weight="normal" stroke="#fff" stroke-width=".6" lengthAdjust="spacingAndGlyphs" textLength="32.2">20,20</text>
<text x="869.4" y="423.9" text-anchor="end" font-size="14.4" font-weight="normal" stroke="#fff" stroke-width=".6" lengthAdjust="spacingAndGlyphs" textLength="27.2">тыс.</text>
<text x="940.2" y="415.2" font-size="10.3" textLength="55.6" lengthAdjust="spacingAndGlyphs">Харківська</text>
<text x="915.2" y="435.1" text-anchor="start" font-size="14.4" font-weight="normal" stroke="#fff" stroke-width=".6" lengthAdjust="spacingAndGlyphs" textLength="32.2">53,43</text>
<text x="965.3" y="435.1" text-anchor="end" font-size="14.4" font-weight="normal" stroke="#fff" stroke-width=".6" lengthAdjust="spacingAndGlyphs" textLength="14.2">т...</text>
<text x="781.8" y="482.7" font-size="10.3" textLength="78.6" lengthAdjust="spacingAndGlyphs">Кіровоградська</text>
<text x="781.9" y="502.9" font-size="14.4" font-weight="normal" stroke="#fff" stroke-width=".6" lengthAdjust="spacingAndGlyphs" textLength="29">4706</text>
<text x="886.3" y="480.9" font-size="10.3" textLength="93.5" lengthAdjust="spacingAndGlyphs">Дніпропетровська</text>
<text x="854.1" y="501.5" text-anchor="start" font-size="14.4" font-weight="normal" stroke="#fff" stroke-width=".6" lengthAdjust="spacingAndGlyphs" textLength="32.2">33,12</text>
<text x="917.7" y="501.5" text-anchor="end" font-size="14.4" font-weight="normal" stroke="#fff" stroke-width=".6" lengthAdjust="spacingAndGlyphs" textLength="27.2">тыс.</text>
<text x="1032" y="438.1" font-size="10.3" textLength="51.4" lengthAdjust="spacingAndGlyphs">Луганська</text>
<text x="1032.8" y="459" font-size="14.4" font-weight="normal" stroke="#fff" stroke-width=".6" lengthAdjust="spacingAndGlyphs" textLength="29.9">5925</text>
<text x="986.6" y="504.1" font-size="10.3" textLength="49.4" lengthAdjust="spacingAndGlyphs">Донецька</text>
<text x="955.7" y="523.9" text-anchor="start" font-size="14.4" font-weight="normal" stroke="#fff" stroke-width=".6" lengthAdjust="spacingAndGlyphs" textLength="32.2">21,34</text>
<text x="1019.3" y="523.9" text-anchor="end" font-size="14.4" font-weight="normal" stroke="#fff" stroke-width=".6" lengthAdjust="spacingAndGlyphs" textLength="27.2">тыс.</text>
<text x="910.3" y="550.5" font-size="10.3" textLength="55.6" lengthAdjust="spacingAndGlyphs">Запорізька</text>
<text x="878.8" y="570.3" text-anchor="start" font-size="14.4" font-weight="normal" stroke="#fff" stroke-width=".6" lengthAdjust="spacingAndGlyphs" textLength="32.2">27,23</text>
<text x="941.8" y="570.3" text-anchor="end" font-size="14.4" font-weight="normal" stroke="#fff" stroke-width=".6" lengthAdjust="spacingAndGlyphs" textLength="27.2">тыс.</text>
<text x="836.3" y="584.6" font-size="10.3" textLength="60.3" lengthAdjust="spacingAndGlyphs">Херсонська</text>
<text x="836.5" y="604" font-size="14.4" font-weight="normal" stroke="#fff" stroke-width=".6" lengthAdjust="spacingAndGlyphs" textLength="30">9345</text>
<text x="768.5" y="542.6" font-size="10.3" textLength="70.7" lengthAdjust="spacingAndGlyphs">Миколаївська</text>
<text x="737.9" y="562.4" text-anchor="start" font-size="14.4" font-weight="normal" stroke="#fff" stroke-width=".6" lengthAdjust="spacingAndGlyphs" textLength="32.2">16,73</text>
<text x="801.1" y="562.4" text-anchor="end" font-size="14.4" font-weight="normal" stroke="#fff" stroke-width=".6" lengthAdjust="spacingAndGlyphs" textLength="27.2">тыс.</text>
<text x="706.3" y="555.1" font-size="10.3" textLength="43.6" lengthAdjust="spacingAndGlyphs">Одеська</text>
<text x="680.2" y="575.5" text-anchor="start" font-size="14.4" font-weight="normal" stroke="#fff" stroke-width=".6" lengthAdjust="spacingAndGlyphs" textLength="32.2">40,54</text>
<text x="732.6" y="575.5" text-anchor="end" font-size="14.4" font-weight="normal" stroke="#fff" stroke-width=".6" lengthAdjust="spacingAndGlyphs" textLength="14.2">т...</text>
<text x="577.7" y="409.6" font-size="10.3" textLength="41.7" lengthAdjust="spacingAndGlyphs">Хмельн.</text>
<text x="546.2" y="430.6" text-anchor="start" font-size="14.4" font-weight="normal" stroke="#fff" stroke-width=".6" lengthAdjust="spacingAndGlyphs" textLength="32.2">27,70</text>
<text x="609.2" y="430.6" text-anchor="end" font-size="14.4" font-weight="normal" stroke="#fff" stroke-width=".6" lengthAdjust="spacingAndGlyphs" textLength="27.2">тыс.</text>
<text x="526.7" y="427.4" font-size="10.3" textLength="37.8" lengthAdjust="spacingAndGlyphs">Терноп.</text>
<text x="494.2" y="448.3" text-anchor="start" font-size="14.4" font-weight="normal" stroke="#fff" stroke-width=".6" lengthAdjust="spacingAndGlyphs" textLength="32.2">26,75</text>
<text x="558.8" y="448.3" text-anchor="end" font-size="14.4" font-weight="normal" stroke="#fff" stroke-width=".6" lengthAdjust="spacingAndGlyphs" textLength="27.2">тыс.</text>
<text x="462.8" y="404.6" font-size="10.3" textLength="50.3" lengthAdjust="spacingAndGlyphs">Львівська</text>
<text x="431.5" y="427.2" text-anchor="start" font-size="14.4" font-weight="normal" stroke="#fff" stroke-width=".6" lengthAdjust="spacingAndGlyphs" textLength="32.2">43,61</text>
<text x="495.1" y="427.2" text-anchor="end" font-size="14.4" font-weight="normal" stroke="#fff" stroke-width=".6" lengthAdjust="spacingAndGlyphs" textLength="27.2">тыс.</text>
<text x="485.5" y="465.8" font-size="10.3" textLength="49.2" lengthAdjust="spacingAndGlyphs">Ів.-Франк.</text>
<text x="460.4" y="486.1" text-anchor="start" font-size="14.4" font-weight="normal" stroke="#fff" stroke-width=".6" lengthAdjust="spacingAndGlyphs" textLength="32.2">34,05</text>
<text x="511.9" y="486.1" text-anchor="end" font-size="14.4" font-weight="normal" stroke="#fff" stroke-width=".6" lengthAdjust="spacingAndGlyphs" textLength="14.2">т...</text>
<text x="433.4" y="481.3" font-size="10.3" textLength="49.7" lengthAdjust="spacingAndGlyphs">Закарпат.</text>
<text x="402.5" y="500.2" text-anchor="start" font-size="14.4" font-weight="normal" stroke="#fff" stroke-width=".6" lengthAdjust="spacingAndGlyphs" textLength="32.2">22,43</text>
<text x="466.1" y="500.2" text-anchor="end" font-size="14.4" font-weight="normal" stroke="#fff" stroke-width=".6" lengthAdjust="spacingAndGlyphs" textLength="27.2">тыс.</text>
<text x="535.6" y="487.7" font-size="10.3" textLength="36.1" lengthAdjust="spacingAndGlyphs">Чернів.</text>
<text x="515.7" y="509.2" text-anchor="start" font-size="14.4" font-weight="normal" stroke="#fff" stroke-width=".6" lengthAdjust="spacingAndGlyphs" textLength="32.6">32,49</text>
<text x="553.7" y="509.2" text-anchor="end" font-size="14.4" font-weight="normal" stroke="#fff" stroke-width=".6" lengthAdjust="spacingAndGlyphs" textLength="5.4">..</text>
</g>
<g fill="#1f4b8c"><circle cx="427.7" cy="604.4" r="1.5"/><circle cx="423.3" cy="608.8" r="1.5"/><circle cx="427.7" cy="608.8" r="1.5"/><circle cx="432.1" cy="608.8" r="1.5"/><circle cx="427.7" cy="613.2" r="1.5"/><circle cx="427.7" cy="639.6" r="1.5"/><circle cx="423.3" cy="635.2" r="1.5"/><circle cx="427.7" cy="635.2" r="1.5"/><circle cx="432.1" cy="635.2" r="1.5"/><circle cx="427.7" cy="630.8" r="1.5"/><circle cx="410.1" cy="622" r="1.5"/><circle cx="414.5" cy="617.6" r="1.5"/><circle cx="414.5" cy="622" r="1.5"/><circle cx="414.5" cy="626.4" r="1.5"/><circle cx="418.9" cy="622" r="1.5"/><circle cx="445.3" cy="622" r="1.5"/><circle cx="440.9" cy="617.6" r="1.5"/><circle cx="440.9" cy="622" r="1.5"/><circle cx="440.9" cy="626.4" r="1.5"/><circle cx="436.5" cy="622" r="1.5"/></g>
<g fill="#eaa740"><circle cx="418.9" cy="613.1" r="1.7"/><circle cx="436.5" cy="613.1" r="1.7"/><circle cx="418.9" cy="630.9" r="1.7"/><circle cx="436.5" cy="630.9" r="1.7"/></g>
<circle cx="427.7" cy="622" r="4.1" fill="#fff6e6" stroke="#e9a030" stroke-width="2.3"/>
<path d="M455.6 607.1V636.3" stroke="#4e74ab" stroke-width=".8"/>
<g font-family="'Liberation Sans',sans-serif" font-weight="bold" font-size="8.9" fill="#2b5597" stroke="#2b5597" stroke-width=".3"><text x="462" y="614.9" textLength="21.8" lengthAdjust="spacingAndGlyphs">ЦЕНТР</text><text x="462" y="624.2" textLength="56.6" lengthAdjust="spacingAndGlyphs">ГРОМАДСЬКОГО</text><text x="462" y="633.7" textLength="34.7" lengthAdjust="spacingAndGlyphs">ЗДОРОВ'Я</text></g>
</svg>
</div>

<!-- right panel -->
<div class="t" style="left:1143px;top:224px;font-size:13px;font-weight:bold;color:#2b2b2b;letter-spacing:.05px">РОЗГОРНУТА ІНФОРМАЦІЯ</div>
<div class="rbox" style="left:1132px;top:252px;width:193px;height:73px;border-color:#173f78"><div class="tx" style="line-height:14.7px;top:3.3px">Переглянути дані за добу в<br>розрізі областей</div></div>
<div class="rbox" style="left:1132px;top:335px;width:192px;height:72px"><div class="tx">Статистика подобова<br>загальна</div></div>
<div class="rbox" style="left:1133px;top:417px;width:192px;height:72px"><div class="tx">Статистика подобова нових<br>випадків</div></div>

<div class="t c" style="left:1127px;width:201px;top:533px;font-size:13.7px;color:#3a3a3a">ДАНІ СТАНОМ НА</div>
<div class="t c" style="left:1127px;width:201px;top:553px;font-size:20px;color:#2e2e2e">26.11.2020</div>
<div class="t" style="left:1138px;top:594px;font-size:12.3px;font-weight:bold;color:#2b2b2b">ПРИМІТКА</div>
<div class="t" style="left:1138px;top:612px;font-size:12.7px;line-height:17.4px;font-style:italic;color:#3a3a3a">Дані з АР Крим та території<br>ОРДЛО відсутні у зв'язку з<br>тимчасовою окупацією</div>


<!-- right panel icons -->
<svg class="abs" style="left:1265px;top:286px" width="50" height="38" viewBox="1265 286 50 38">
 <g fill="none" stroke="#1c1c1c" stroke-width="1.55">
  <rect x="1271.3" y="291" width="36.2" height="27.8" rx="1"/>
  <path d="M1271.3 296.4H1307.5 M1271.3 302.2H1307.5 M1271.3 307.7H1307.5 M1271.3 313.2H1307.5 M1280.4 296.4V318.8 M1289.3 296.4V318.8 M1298.2 296.4V318.8"/>
 </g>
 <path d="M1286 293.7H1300.4" stroke="#666" stroke-width="1.5"/><rect x="1302.5" y="292.8" width="2" height="1.9" fill="#555"/>
</svg>
<svg class="abs" style="left:1266px;top:358px" width="48" height="42" viewBox="1266 358 48 42">
 <g id="chartico" fill="none" stroke="#454545" stroke-width="1.5">
  <rect x="1271.3" y="383.4" width="6.2" height="12.6" rx="1.5"/>
  <rect x="1281.9" y="375.8" width="6.2" height="20.2" rx="1.5"/>
  <rect x="1292.2" y="380.2" width="6.2" height="15.8" rx="1.5"/>
  <rect x="1302.8" y="371.6" width="6.2" height="24.4" rx="1.5"/>
  <path d="M1274.2 375.6L1284.5 367.4L1295.1 372.3L1305.8 363.5" stroke-width="2.8"/>
  <path d="M1274.2 375.6L1284.5 367.4L1295.1 372.3L1305.8 363.5" stroke="#fff" stroke-width=".9"/>
  <g fill="#fff" stroke-width="1.4"><circle cx="1274.2" cy="375.6" r="2.9"/><circle cx="1284.5" cy="367.4" r="2.9"/><circle cx="1295.1" cy="372.3" r="2.9"/><circle cx="1305.8" cy="363.5" r="2.9"/></g>
 </g>
</svg>
<svg class="abs" style="left:1266px;top:440.5px" width="48" height="42" viewBox="1266 358 48 42">
 <g fill="none" stroke="#454545" stroke-width="1.5">
  <rect x="1271.3" y="383.4" width="6.2" height="12.6" rx="1.5"/>
  <rect x="1281.9" y="375.8" width="6.2" height="20.2" rx="1.5"/>
  <rect x="1292.2" y="380.2" width="6.2" height="15.8" rx="1.5"/>
  <rect x="1302.8" y="371.6" width="6.2" height="24.4" rx="1.5"/>
  <path d="M1274.2 375.6L1284.5 367.4L1295.1 372.3L1305.8 363.5" stroke-width="2.8"/>
  <path d="M1274.2 375.6L1284.5 367.4L1295.1 372.3L1305.8 363.5" stroke="#fff" stroke-width=".9"/>
  <g fill="#fff" stroke-width="1.4"><circle cx="1274.2" cy="375.6" r="2.9"/><circle cx="1284.5" cy="367.4" r="2.9"/><circle cx="1295.1" cy="372.3" r="2.9"/><circle cx="1305.8" cy="363.5" r="2.9"/></g>
 </g>
</svg>

<!-- bottom-right logos -->
<svg class="abs" style="left:1127px;top:690px" width="211" height="53" viewBox="1127 690 211 53">
 <g fill="#1f4b8c"><circle cx="1153" cy="698" r="1.55"/><circle cx="1148.5" cy="702.4" r="1.55"/><circle cx="1153" cy="702.4" r="1.55"/><circle cx="1157.5" cy="702.4" r="1.55"/><circle cx="1153" cy="706.9" r="1.55"/><circle cx="1153" cy="733.6" r="1.55"/><circle cx="1148.5" cy="729.1" r="1.55"/><circle cx="1153" cy="729.1" r="1.55"/><circle cx="1157.5" cy="729.1" r="1.55"/><circle cx="1153" cy="724.7" r="1.55"/><circle cx="1135.2" cy="715.8" r="1.55"/><circle cx="1139.7" cy="711.3" r="1.55"/><circle cx="1139.7" cy="715.8" r="1.55"/><circle cx="1139.7" cy="720.2" r="1.55"/><circle cx="1144.1" cy="715.8" r="1.55"/><circle cx="1170.8" cy="715.8" r="1.55"/><circle cx="1166.3" cy="711.3" r="1.55"/><circle cx="1166.3" cy="715.8" r="1.55"/><circle cx="1166.3" cy="720.2" r="1.55"/><circle cx="1161.9" cy="715.8" r="1.55"/></g>
 <g fill="#eaa740"><circle cx="1144.1" cy="706.9" r="1.75"/><circle cx="1161.9" cy="706.9" r="1.75"/><circle cx="1144.1" cy="724.7" r="1.75"/><circle cx="1161.9" cy="724.7" r="1.75"/></g>
 <circle cx="1153" cy="715.8" r="4.2" fill="#fff6e6" stroke="#e9a030" stroke-width="2.4"/>
 <path d="M1181.4 700.8V730" stroke="#4e74ab" stroke-width=".8"/>
 <g font-family="'Liberation Sans',sans-serif" font-weight="bold" font-size="8.9" fill="#2b5597" stroke="#2b5597" stroke-width=".3">
  <text x="1187.7" y="709" textLength="22.4" lengthAdjust="spacingAndGlyphs">ЦЕНТР</text>
  <text x="1187.7" y="718.2" textLength="56.8" lengthAdjust="spacingAndGlyphs">ГРОМАДСЬКОГО</text>
  <text x="1187.7" y="727.6" textLength="34.7" lengthAdjust="spacingAndGlyphs">ЗДОРОВ'Я</text>
 </g>
 <text x="1256.4" y="722.5" font-family="'Liberation Sans',sans-serif" font-size="20.6" fill="#1cabe2" textLength="53" lengthAdjust="spacingAndGlyphs">unicef</text>
 <circle cx="1320.7" cy="714.7" r="9.8" fill="#1cabe2"/>
 <g fill="none" stroke="#d9f1fb" stroke-width=".9"><circle cx="1320.7" cy="714.7" r="7.6"/><ellipse cx="1320.7" cy="714.7" rx="3.6" ry="7.6"/><path d="M1313.1 714.7H1328.3 M1314.3 710.6H1327.1 M1314.3 718.8H1327.1"/></g>
 <path d="M1318 711.5a1.6 1.6 0 1 0 .1 0M1323.5 713a1.3 1.3 0 1 0 .1 0M1316.5 715.5c1-1.2 3-1.2 3.6 0l.5 4h-4.4zM1322 716c.8-1 2.4-1 2.8 0l.3 3h-3.3z" fill="#e9f7fd"/>
</svg>
</body>
</html>
